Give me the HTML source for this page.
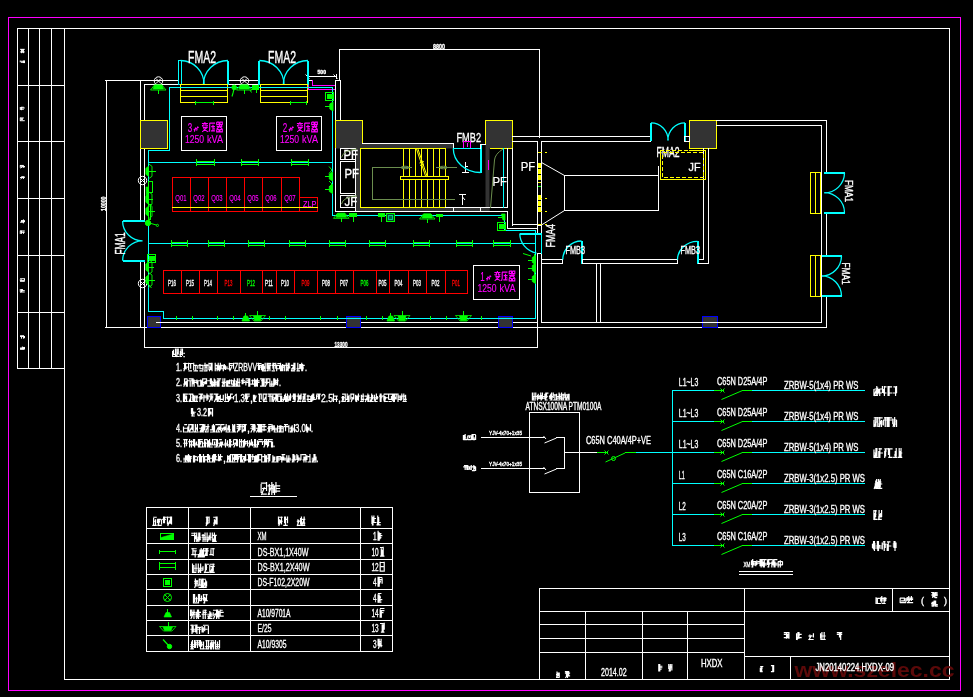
<!DOCTYPE html>
<html><head><meta charset="utf-8"><title>XM lighting plan</title>
<style>
html,body{margin:0;padding:0;background:#000;overflow:hidden}
body{width:973px;height:697px}
svg{display:block;font-family:"Liberation Sans",sans-serif}
text{white-space:pre}
</style></head><body>
<svg width="973" height="697" viewBox="0 0 973 697" fill="none" stroke-linecap="butt">
<rect x="0" y="0" width="973" height="697" fill="#000"/>
<defs><filter id="idf" x="0" y="0" width="973" height="697" filterUnits="userSpaceOnUse" color-interpolation-filters="sRGB"><feOffset dx="0" dy="0"/></filter></defs>
<g filter="url(#idf)">
<rect x="8.5" y="17.5" width="952" height="673" stroke="#ff00ff" fill="none" stroke-width="1" shape-rendering="crispEdges"/>
<line x1="17" y1="28.5" x2="950" y2="28.5" stroke="#ffffff" stroke-width="1" shape-rendering="crispEdges"/>
<line x1="949.5" y1="28" x2="949.5" y2="680" stroke="#ffffff" stroke-width="1" shape-rendering="crispEdges"/>
<line x1="64" y1="679.5" x2="950" y2="679.5" stroke="#ffffff" stroke-width="1" shape-rendering="crispEdges"/>
<line x1="64.5" y1="28" x2="64.5" y2="680" stroke="#ffffff" stroke-width="1" shape-rendering="crispEdges"/>
<line x1="17.5" y1="28" x2="17.5" y2="369" stroke="#ffffff" stroke-width="1" shape-rendering="crispEdges"/>
<line x1="17" y1="368.5" x2="65" y2="368.5" stroke="#ffffff" stroke-width="1" shape-rendering="crispEdges"/>
<line x1="28.5" y1="28" x2="28.5" y2="369" stroke="#ffffff" stroke-width="1" shape-rendering="crispEdges"/>
<line x1="39.5" y1="28" x2="39.5" y2="369" stroke="#ffffff" stroke-width="1" shape-rendering="crispEdges"/>
<line x1="51.5" y1="28" x2="51.5" y2="369" stroke="#ffffff" stroke-width="1" shape-rendering="crispEdges"/>
<line x1="17" y1="85.5" x2="65" y2="85.5" stroke="#ffffff" stroke-width="1" shape-rendering="crispEdges"/>
<line x1="17" y1="141.5" x2="65" y2="141.5" stroke="#ffffff" stroke-width="1" shape-rendering="crispEdges"/>
<line x1="17" y1="198.5" x2="65" y2="198.5" stroke="#ffffff" stroke-width="1" shape-rendering="crispEdges"/>
<line x1="17" y1="255.5" x2="65" y2="255.5" stroke="#ffffff" stroke-width="1" shape-rendering="crispEdges"/>
<line x1="17" y1="312.5" x2="65" y2="312.5" stroke="#ffffff" stroke-width="1" shape-rendering="crispEdges"/>
<path d="M21.46 49V53.2M22.4 49V52.57M23.43 49V53.2M20.06 49.34H24.74M20.06 51.94H24.74" stroke="#ffffff" fill="none" stroke-width="1"/>
<path d="M20.29 60.5V62.32M23.43 60.5V63.1M24.51 60.5V63.1M21 61.28H24.74M21 62.32H24.74" stroke="#ffffff" fill="none" stroke-width="1"/>
<path d="M20.29 107V109.72M21.46 107V110.2M21 107.26H23.8M20.06 107.96H24.74M20.06 109.24H23.8" stroke="#ffffff" fill="none" stroke-width="1"/>
<path d="M20.29 117.7V120.9M21.46 118.18V119.94M22.4 118.18V119.94M20.06 117.96H23.8M20.06 120.71H24.74" stroke="#ffffff" fill="none" stroke-width="1"/>
<path d="M20.29 165.2V167.75M23.43 165.65V167.75M24.51 166.1V167.3M20.06 165.44H23.8M21 166.7H24.74M20.53 168.2L22.87 166.4" stroke="#ffffff" fill="none" stroke-width="1"/>
<path d="M22.4 176.45V178.1M23.43 176.45V179M21 176.9H24.74M20.06 177.5H24.74M20.53 179L22.87 177.2" stroke="#ffffff" fill="none" stroke-width="1"/>
<path d="M21.46 220.6V222.2M23.43 219.4V223.4M24.51 220.6V222.2M21 220.6H24.74M21 221.4H24.74M20.06 222.2H23.8" stroke="#ffffff" fill="none" stroke-width="1"/>
<path d="M20.29 230.7V233.9M21.46 230.7V233.9M23.43 231.66V233.9M20.06 230.96H24.74M21 232.3H24.74" stroke="#ffffff" fill="none" stroke-width="1"/>
<path d="M20.29 279.4V280.6M21.46 279.4V280.6M24.51 278.5V280.6M20.06 278.74H24.74M20.06 280.6H24.74M20.06 281.32H24.74" stroke="#ffffff" fill="none" stroke-width="1"/>
<path d="M20.29 289V291.72M21.46 289V292.2M22.4 289V291.24M21 290.6H24.74M20.06 292.01H24.74M20.53 292.2L22.87 290.28" stroke="#ffffff" fill="none" stroke-width="1"/>
<path d="M21.46 335.98V338.7M23.43 335.5V338.7M24.51 335.98V338.22M20.06 335.76H23.8M20.06 336.46H24.74" stroke="#ffffff" fill="none" stroke-width="1"/>
<path d="M22.4 346.5V349.05M23.43 346.95V349.5M24.51 346.95V349.5M20.06 348H23.8M20.06 348.6H24.74M20.06 349.32H23.8" stroke="#ffffff" fill="none" stroke-width="1"/>
<line x1="539" y1="588.5" x2="950" y2="588.5" stroke="#ffffff" stroke-width="1" shape-rendering="crispEdges"/>
<line x1="539.5" y1="588" x2="539.5" y2="680" stroke="#ffffff" stroke-width="1" shape-rendering="crispEdges"/>
<line x1="539" y1="611.5" x2="950" y2="611.5" stroke="#ffffff" stroke-width="1" shape-rendering="crispEdges"/>
<line x1="539" y1="624.5" x2="745" y2="624.5" stroke="#ffffff" stroke-width="1" shape-rendering="crispEdges"/>
<line x1="539" y1="638.5" x2="745" y2="638.5" stroke="#ffffff" stroke-width="1" shape-rendering="crispEdges"/>
<line x1="539" y1="652.5" x2="745" y2="652.5" stroke="#ffffff" stroke-width="1" shape-rendering="crispEdges"/>
<line x1="744" y1="656.5" x2="950" y2="656.5" stroke="#ffffff" stroke-width="1" shape-rendering="crispEdges"/>
<line x1="585.5" y1="611" x2="585.5" y2="680" stroke="#ffffff" stroke-width="1" shape-rendering="crispEdges"/>
<line x1="642.5" y1="611" x2="642.5" y2="680" stroke="#ffffff" stroke-width="1" shape-rendering="crispEdges"/>
<line x1="687.5" y1="611" x2="687.5" y2="680" stroke="#ffffff" stroke-width="1" shape-rendering="crispEdges"/>
<line x1="744.5" y1="588" x2="744.5" y2="680" stroke="#ffffff" stroke-width="1" shape-rendering="crispEdges"/>
<line x1="892.5" y1="588" x2="892.5" y2="612" stroke="#ffffff" stroke-width="1" shape-rendering="crispEdges"/>
<line x1="790.5" y1="656" x2="790.5" y2="680" stroke="#ffffff" stroke-width="1" shape-rendering="crispEdges"/>
<text x="794.5" y="676.5" font-size="21" fill="#5c0909" textLength="160" lengthAdjust="spacingAndGlyphs" font-weight="bold">www.szelec.cc</text>
<path d="M557.02 671.5V677.8M558.45 672.45V675.91M559.24 672.45V677.8M556.67 673.39H559.41M555.99 674.65H559.41M555.99 677.42H559.41M556.33 677.8L558.04 674.02" stroke="#ffffff" fill="none" stroke-width="1.2"/>
<path d="M566.46 671V675.9M567.5 672.05V678M568.65 671V675.9M564.89 671.56H569.07M564.89 673.1H570.11M565.93 675.9H570.11M565.41 678L568.02 673.8" stroke="#ffffff" fill="none" stroke-width="1.2"/>
<text x="601" y="676.3" font-size="11.5" fill="#ffffff" textLength="25.7" lengthAdjust="spacingAndGlyphs" stroke="#ffffff" stroke-width="0.35">2014.02</text>
<path d="M658.8 664V671.5M659.74 664V671.5M659.37 666.25H662.39M659.37 667.75H662.39M658.61 669.25H661.63" stroke="#ffffff" fill="none" stroke-width="1.2"/>
<path d="M668.76 664V669.25M670.3 664V671.5M671.84 664V670.38M669.27 666.25H672.01M668.59 667.75H671.33M668.93 671.5L670.64 667" stroke="#ffffff" fill="none" stroke-width="1.2"/>
<text x="701" y="667.3" font-size="10.3" fill="#ffffff" textLength="21.5" lengthAdjust="spacingAndGlyphs" stroke="#ffffff" stroke-width="0.35">HXDX</text>
<path d="M760.33 667.8V672M761.12 666V672M761.75 667.8V672M760.17 666.48H763.32M760.8 667.8H762.69M760.17 671.64H762.69M760.49 672L762.06 668.4" stroke="#ffffff" fill="none" stroke-width="1.2"/>
<path d="M772.79 665V672M773.62 665V672M770.92 665.56H773.8M770.92 671.58H773.8" stroke="#ffffff" fill="none" stroke-width="1.2"/>
<text x="815.5" y="671" font-size="10" fill="#ffffff" textLength="78.5" lengthAdjust="spacingAndGlyphs" stroke="#ffffff" stroke-width="0.35">JN20140224.HXDX-09</text>
<path d="M786.5 632V638.8M787.69 634.4V637.6M788.93 632V638.8M783.8 632.64H789.2M783.8 634.4H789.2M783.8 637.6H789.2" stroke="#ffffff" fill="none" stroke-width="1.2"/>
<path d="M796.57 633.2V640M797.92 632V638.8M799 632V638.8M797.38 634.4H801.7M796.3 637.6H801.7M796.84 640L799.54 635.2" stroke="#ffffff" fill="none" stroke-width="1.2"/>
<path d="M809.92 634.4V637.6M813.43 633.2V637.6M808.3 636H812.62M808.3 639.52H813.7M808.84 640L811.54 635.2" stroke="#ffffff" fill="none" stroke-width="1.2"/>
<path d="M820.57 633.2V638.8M821.92 632V640M824.19 632V640M820.3 636H825.7M820.3 639.52H825.7" stroke="#ffffff" fill="none" stroke-width="1.2"/>
<path d="M839.5 632V637.6M840.69 633.2V640M836.8 632.64H842.2M836.8 634.4H842.2" stroke="#ffffff" fill="none" stroke-width="1.2"/>
<path d="M876.05 597.2V604M877.34 598.4V604M880.7 597.2V601.6M875.79 598.4H879.93M876.82 603.52H880.96M881.8 596V602.8M884.12 597.2V604M885.26 597.2V601.6M881.54 598.4H886.71M881.54 600H886.71M881.54 603.52H885.68" stroke="#ffffff" fill="none" stroke-width="1.2"/>
<path d="M900.17 598.1V603M904.39 598.1V600.9M905.84 598.1V601.95M899.85 598.1H904.89M901.11 600.9H904.89M899.85 602.58H906.15M907.17 597.05V600.9M908.74 596V603M911.39 596V600.9M906.85 598.1H913.15M906.85 599.5H913.15M906.85 602.58H913.15M907.48 603L910.63 598.8" stroke="#ffffff" fill="none" stroke-width="1.2"/>
<text x="921" y="603.5" font-size="9" fill="#ffffff" stroke="#ffffff" stroke-width="0.35">(</text>
<path d="M932.75 592.9V598M933.44 592V597.1M934.17 592V597.1M931.17 592.48H934.32M931.17 595H934.32M934.83 592.9V598M935.62 592V596.2M936.94 592V596.2M935.3 595H937.82M934.67 597.64H937.19" stroke="#ffffff" fill="none" stroke-width="1.2"/>
<path d="M932.12 602.3V606.5M933.44 601.4V606.5M934.17 600.5V604.7M931.8 602.3H933.69M931.17 603.5H933.69M931.8 606.14H933.69M934.83 600.5V606.5M935.62 600.5V605.6M935.3 604.7H937.82M935.3 606.14H937.82" stroke="#ffffff" fill="none" stroke-width="1.2"/>
<text x="944" y="603.5" font-size="9" fill="#ffffff" stroke="#ffffff" stroke-width="0.35">)</text>
<line x1="146" y1="507.5" x2="393" y2="507.5" stroke="#ffffff" stroke-width="1" shape-rendering="crispEdges"/>
<line x1="146" y1="528.5" x2="393" y2="528.5" stroke="#ffffff" stroke-width="1" shape-rendering="crispEdges"/>
<line x1="146" y1="543.5" x2="393" y2="543.5" stroke="#ffffff" stroke-width="1" shape-rendering="crispEdges"/>
<line x1="146" y1="559.5" x2="393" y2="559.5" stroke="#ffffff" stroke-width="1" shape-rendering="crispEdges"/>
<line x1="146" y1="574.5" x2="393" y2="574.5" stroke="#ffffff" stroke-width="1" shape-rendering="crispEdges"/>
<line x1="146" y1="589.5" x2="393" y2="589.5" stroke="#ffffff" stroke-width="1" shape-rendering="crispEdges"/>
<line x1="146" y1="605.5" x2="393" y2="605.5" stroke="#ffffff" stroke-width="1" shape-rendering="crispEdges"/>
<line x1="146" y1="620.5" x2="393" y2="620.5" stroke="#ffffff" stroke-width="1" shape-rendering="crispEdges"/>
<line x1="146" y1="635.5" x2="393" y2="635.5" stroke="#ffffff" stroke-width="1" shape-rendering="crispEdges"/>
<line x1="146" y1="651.5" x2="393" y2="651.5" stroke="#ffffff" stroke-width="1" shape-rendering="crispEdges"/>
<line x1="146.5" y1="507" x2="146.5" y2="652" stroke="#ffffff" stroke-width="1" shape-rendering="crispEdges"/>
<line x1="188.5" y1="507" x2="188.5" y2="652" stroke="#ffffff" stroke-width="1" shape-rendering="crispEdges"/>
<line x1="250.5" y1="507" x2="250.5" y2="652" stroke="#ffffff" stroke-width="1" shape-rendering="crispEdges"/>
<line x1="360.5" y1="507" x2="360.5" y2="652" stroke="#ffffff" stroke-width="1" shape-rendering="crispEdges"/>
<line x1="392.5" y1="507" x2="392.5" y2="652" stroke="#ffffff" stroke-width="1" shape-rendering="crispEdges"/>
<path d="M153.6 517.92V526M155.49 519.35V526M153.15 517.26H156.75M153.15 521.25H155.85M152.25 525.43H156.75M157.47 519.35V523.15M158.6 519.35V526M161.53 519.35V524.58M157.25 519.35H160.85M157.25 525.43H161.75M157.7 526L159.95 520.3M163.6 516.5V523.15M164.5 516.5V523.15M163.15 517.26H166.75M162.25 519.35H165.85M167.47 516.5V524.58M170.49 516.5V523.15M171.53 516.5V524.58M167.25 517.26H171.75M167.25 523.15H171.75M167.7 526L169.95 520.3" stroke="#ffffff" fill="none" stroke-width="1.2"/>
<path d="M206.78 516.5V524.58M207.5 516.5V524.58M209.12 516.5V523.15M205.7 517.26H209.3M205.7 523.15H208.58M206.06 526L207.86 520.3" stroke="#ffffff" fill="none" stroke-width="1.2"/>
<path d="M214.44 519.35V524.58M216.14 516.5V524.58M217.07 516.5V524.58M213.22 517.26H216.47M213.22 523.15H216.47M213.63 526L215.66 520.3" stroke="#ffffff" fill="none" stroke-width="1.2"/>
<path d="M278.48 516.5V524.58M279.6 519.35V524.58M281.49 516.5V524.58M279.15 517.26H282.75M278.25 521.25H282.75M278.7 526L280.95 520.3M284.6 516.5V523.15M285.5 516.5V526M287.52 516.5V523.15M284.15 519.35H287.75M283.25 525.43H287.75" stroke="#ffffff" fill="none" stroke-width="1.2"/>
<path d="M297.94 519.35V523.15M300.57 517.92V524.58M296.73 521.25H299.97M296.73 525.43H300.78M297.13 526L299.16 520.3M301.43 516.5V526M304.14 516.5V526M301.23 519.35H305.28M301.23 523.15H305.28M302.04 525.43H305.28M301.63 526L303.66 520.3" stroke="#ffffff" fill="none" stroke-width="1.2"/>
<path d="M371.95 515.5V524M373.02 517V525.5M373.88 515.5V522.5M371.74 518.5H376.01M371.74 522.5H376.01M372.17 525.5L374.3 519.5M377.77 515.5V525.5M378.62 517V525.5M376.49 522.5H380.76M376.49 524.9H380.76M376.92 525.5L379.05 519.5" stroke="#ffffff" fill="none" stroke-width="1.2"/>
<path d="M194.63 532.5V542M195.71 535.35V539.15M191.26 533.26H195.94M191.26 535.35H195M196.69 532.5V542M198.8 532.5V542M199.83 532.5V540.58M197.4 537.25H201.14M196.46 539.15H201.14M196.93 542L199.27 536.3M203.06 533.92V542M205.03 532.5V542M201.66 535.35H205.4M201.66 537.25H206.34M202.6 539.15H206.34M207.09 532.5V542M209.2 535.35V539.15M210.23 532.5V540.58M206.86 537.25H211.54M206.86 539.15H210.6M207.33 542L209.67 536.3M212.29 532.5V540.58M214.4 532.5V542M215.43 535.35V542M212.06 535.35H216.74M212.06 541.43H216.74M212.53 542L214.87 536.3" stroke="#ffffff" fill="none" stroke-width="1.2"/>
<path d="M192.92 548V554.65M195.19 550.85V557.5M191.3 548.76H196.7M192.38 550.85H196.7M191.3 554.65H196.7M200 549.42V557.5M201.19 548V557.5M202.43 549.42V557.5M197.3 554.65H202.7M198.38 556.93H201.62M197.84 557.5L200.54 551.8M203.57 548V557.5M206 548V556.08M207.19 548V556.08M203.3 548.76H208.7M203.3 550.85H208.7M203.84 557.5L206.54 551.8M210.92 549.42V554.65M213.19 548V556.08M210.38 548.76H214.7M209.3 554.65H213.62" stroke="#ffffff" fill="none" stroke-width="1.2"/>
<path d="M192.55 563.5V573M193.84 564.92V573M196.01 563.5V571.58M193.32 568.25H197.46M192.29 572.43H196.43M198.3 563.5V573M200.62 563.5V573M202.95 566.35V570.15M198.04 568.25H203.21M198.04 570.15H203.21M198.56 573L201.14 567.3M205.34 563.5V571.58M206.38 564.92V570.15M204.82 564.26H208.96M203.79 572.43H208.96M204.31 573L206.89 567.3M209.8 564.92V573M212.12 566.35V573M213.26 563.5V571.58M209.54 564.26H214.71M210.57 566.35H214.71M209.54 572.43H214.71M210.06 573L212.64 567.3" stroke="#ffffff" fill="none" stroke-width="1.2"/>
<path d="M195.39 578.5V586.58M196.17 579.92V586.58M197.92 579.92V586.58M194.22 581.35H198.12M194.22 583.25H198.12M194.61 588L196.56 582.3M199.72 578.5V585.15M201.36 579.92V588M202.26 578.5V588M198.55 579.26H202.45M198.55 585.15H202.45M198.55 587.43H202.45M203.08 578.5V588M205.69 579.92V588M206.59 581.35V586.58M203.66 579.26H206M203.66 583.25H206.78M202.88 587.43H206.78M203.27 588L205.22 582.3" stroke="#ffffff" fill="none" stroke-width="1.2"/>
<path d="M193.47 594V603.5M194.6 594V602.08M196.49 596.85V602.08M193.25 598.75H197.75M193.25 602.93H197.75M198.47 594V603.5M199.6 594V600.65M201.49 595.42V600.65M198.25 598.75H202.75M199.15 600.65H201.85M203.47 594V600.65M204.6 596.85V603.5M206.49 594V600.65M203.25 594.76H207.75M204.15 600.65H207.75M203.7 603.5L205.95 597.8" stroke="#ffffff" fill="none" stroke-width="1.2"/>
<path d="M190.54 609.5V616.15M191.81 609.5V617.58M193.96 609.5V619M191.3 612.35H195.38M190.28 614.25H195.38M190.79 619L193.34 613.3M196.2 612.35V617.58M197.48 609.5V616.15M198.5 609.5V619M195.95 612.35H201.05M195.95 614.25H200.03M195.95 616.15H201.05M196.46 619L199.01 613.3M203.15 610.92V619M205.29 609.5V619M202.64 610.26H206.72M202.64 612.35H206.72M201.62 614.25H206.72M209.83 610.92V619M210.96 612.35V616.15M207.28 614.25H212.38M207.28 616.15H212.38M208.3 618.43H212.38M207.79 619L210.34 613.3M213.2 612.35V616.15M216.62 609.5V619M217.79 609.5V617.58M212.95 610.26H217.03M213.97 614.25H217.03M213.46 619L216.01 613.3M218.87 610.92V619M220.15 609.5V616.15M219.64 610.26H222.7M219.64 612.35H223.72M218.62 616.15H223.72" stroke="#ffffff" fill="none" stroke-width="1.2"/>
<path d="M192.03 624.5V634M193.17 625.92V632.58M195.73 624.5V632.58M190.32 625.26H194.88M190.32 629.25H196.02M191.46 631.15H196.02M196.94 624.5V634M199.5 627.35V634M202.06 625.92V632.58M196.65 627.35H201.21M196.65 629.25H201.21M203.27 627.35V632.58M204.69 625.92V631.15M208.4 625.92V634M202.98 625.26H208.68M202.98 629.25H207.54" stroke="#ffffff" fill="none" stroke-width="1.2"/>
<path d="M191.6 641.42V649.5M192.5 640V649.5M194.53 640V648.08M190.25 644.75H194.75M190.25 646.65H194.75M190.25 648.93H193.85M195.47 641.42V648.08M197.5 640V648.08M199.53 640V646.65M195.25 640.76H198.85M195.25 642.85H199.75M195.25 644.75H199.75M200.47 640V649.5M201.6 641.42V646.65M203.49 641.42V649.5M201.15 644.75H203.85M201.15 648.93H204.75M206.6 640V649.5M208.49 640V649.5M205.25 640.76H209.75M205.25 646.65H209.75M205.25 648.93H208.85M210.47 642.85V649.5M211.6 641.42V649.5M213.49 641.42V649.5M210.25 640.76H213.85M210.25 642.85H214.75M211.15 646.65H213.85M210.7 649.5L212.95 643.8M215.47 640V649.5M217.5 641.42V648.08M219.53 640V648.08M216.15 644.75H219.75M215.25 646.65H218.85M215.25 648.93H219.75" stroke="#ffffff" fill="none" stroke-width="1.2"/>
<text x="257.5" y="539.7" font-size="11" fill="#ffffff" textLength="9" lengthAdjust="spacingAndGlyphs" stroke="#ffffff" stroke-width="0.35">XM</text>
<text x="257.5" y="555.7" font-size="11" fill="#ffffff" textLength="51" lengthAdjust="spacingAndGlyphs" stroke="#ffffff" stroke-width="0.35">DS-BX1,1X40W</text>
<text x="257.5" y="570.7" font-size="11" fill="#ffffff" textLength="52" lengthAdjust="spacingAndGlyphs" stroke="#ffffff" stroke-width="0.35">DS-BX1,2X40W</text>
<text x="257.5" y="585.7" font-size="11" fill="#ffffff" textLength="52" lengthAdjust="spacingAndGlyphs" stroke="#ffffff" stroke-width="0.35">DS-F102,2X20W</text>
<text x="257.5" y="616.7" font-size="11" fill="#ffffff" textLength="33" lengthAdjust="spacingAndGlyphs" stroke="#ffffff" stroke-width="0.35">A10/9701A</text>
<text x="257.5" y="631.7" font-size="11" fill="#ffffff" textLength="14" lengthAdjust="spacingAndGlyphs" stroke="#ffffff" stroke-width="0.35">E/25</text>
<text x="257.5" y="647.7" font-size="11" fill="#ffffff" textLength="29" lengthAdjust="spacingAndGlyphs" stroke="#ffffff" stroke-width="0.35">A10/9305</text>
<text x="373" y="539.7" font-size="11" fill="#ffffff" textLength="3.6" lengthAdjust="spacingAndGlyphs" stroke="#ffffff" stroke-width="0.35">1</text>
<path d="M378.08 530.7V540.7M379.2 532.2V540.7M380.1 533.7V539.2M378.75 533.7H381.45M378.75 535.7H382.35M377.85 537.7H381.45" stroke="#ffffff" fill="none" stroke-width="1.2"/>
<text x="371.5" y="555.7" font-size="11" fill="#ffffff" textLength="7.2" lengthAdjust="spacingAndGlyphs" stroke="#ffffff" stroke-width="0.35">10</text>
<path d="M381.3 548.2V556.7M382.2 549.7V556.7M383.19 546.7V556.7M379.95 547.5H383.55M379.95 556.1H384.45" stroke="#ffffff" fill="none" stroke-width="1.2"/>
<text x="371.5" y="570.7" font-size="11" fill="#ffffff" textLength="7.2" lengthAdjust="spacingAndGlyphs" stroke="#ffffff" stroke-width="0.35">12</text>
<path d="M380.18 561.7V571.7M384.22 561.7V571.7M379.95 562.5H384.45M380.85 566.7H383.55M379.95 571.1H383.55" stroke="#ffffff" fill="none" stroke-width="1.2"/>
<text x="373" y="585.7" font-size="11" fill="#ffffff" textLength="3.6" lengthAdjust="spacingAndGlyphs" stroke="#ffffff" stroke-width="0.35">4</text>
<path d="M378.08 576.7V586.7M379.2 576.7V586.7M382.12 578.2V583.7M378.75 577.5H382.35M377.85 579.7H382.35M378.3 586.7L380.55 580.7" stroke="#ffffff" fill="none" stroke-width="1.2"/>
<text x="373" y="601.7" font-size="11" fill="#ffffff" textLength="3.6" lengthAdjust="spacingAndGlyphs" stroke="#ffffff" stroke-width="0.35">4</text>
<path d="M378.08 594.2V602.7M379.2 594.2V601.2M380.1 595.7V601.2M377.85 593.5H381.45M377.85 599.7H382.35M377.85 602.1H381.45M378.3 602.7L380.55 596.7" stroke="#ffffff" fill="none" stroke-width="1.2"/>
<text x="371.5" y="616.7" font-size="11" fill="#ffffff" textLength="7.2" lengthAdjust="spacingAndGlyphs" stroke="#ffffff" stroke-width="0.35">14</text>
<path d="M380.18 609.2V617.7M381.3 610.7V617.7M379.95 608.5H384.45M379.95 610.7H384.45M379.95 612.7H383.55" stroke="#ffffff" fill="none" stroke-width="1.2"/>
<text x="371.5" y="631.7" font-size="11" fill="#ffffff" textLength="7.2" lengthAdjust="spacingAndGlyphs" stroke="#ffffff" stroke-width="0.35">13</text>
<path d="M382.2 624.2V632.7M383.19 624.2V632.7M384.22 622.7V629.7M379.95 623.5H383.55M380.85 632.1H384.45" stroke="#ffffff" fill="none" stroke-width="1.2"/>
<text x="373" y="647.7" font-size="11" fill="#ffffff" textLength="3.6" lengthAdjust="spacingAndGlyphs" stroke="#ffffff" stroke-width="0.35">3</text>
<path d="M378.08 638.7V645.7M379.2 638.7V647.2M381.09 638.7V647.2M377.85 641.7H381.45M377.85 645.7H382.35M378.3 648.7L380.55 642.7" stroke="#ffffff" fill="none" stroke-width="1.2"/>
<path d="M261.13 483.95V493.05M266.53 482V491.1M260.83 483.04H266.83M262.03 488.5H266.83M262.03 494.22H266.83M261.43 495L264.43 487.2M269.3 483.95V495M271.82 482V495M273.2 483.95V493.05M267.5 485.9H273.5M268.7 488.5H273.5M268.1 495L271.1 487.2M274.47 485.9V495M275.97 482V493.05M274.17 485.9H280.17M275.37 488.5H280.17M274.17 491.1H280.17" stroke="#ffffff" fill="none" stroke-width="1.2"/>
<line x1="249.5" y1="496.5" x2="297" y2="496.5" stroke="#ffffff" stroke-width="1" shape-rendering="crispEdges"/>
<rect x="160.5" y="533.5" width="13" height="6" stroke="#00ff00" fill="none" stroke-width="1" shape-rendering="crispEdges"/>
<polygon points="161,539 161,537.5 173,534 173,539" stroke="#00ff00" fill="#00ff00" stroke-width="0.5"/>
<line x1="159.5" y1="551.5" x2="176" y2="551.5" stroke="#00ff00" stroke-width="1" shape-rendering="crispEdges"/>
<line x1="159.5" y1="549.5" x2="159.5" y2="554" stroke="#00ff00" stroke-width="1" shape-rendering="crispEdges"/>
<line x1="175.5" y1="549.5" x2="175.5" y2="554" stroke="#00ff00" stroke-width="1" shape-rendering="crispEdges"/>
<line x1="159.5" y1="563.5" x2="176" y2="563.5" stroke="#00ff00" stroke-width="1" shape-rendering="crispEdges"/>
<line x1="159.5" y1="567.5" x2="176" y2="567.5" stroke="#00ff00" stroke-width="1" shape-rendering="crispEdges"/>
<line x1="159.5" y1="561.5" x2="159.5" y2="570" stroke="#00ff00" stroke-width="1" shape-rendering="crispEdges"/>
<line x1="175.5" y1="561.5" x2="175.5" y2="570" stroke="#00ff00" stroke-width="1" shape-rendering="crispEdges"/>
<rect x="163.5" y="578.5" width="8" height="8" stroke="#00ff00" fill="none" stroke-width="1" shape-rendering="crispEdges"/>
<rect x="165.5" y="580.5" width="4" height="4" stroke="#00ff00" fill="#00ff00" stroke-width="1" shape-rendering="crispEdges"/>
<circle cx="167.5" cy="597.5" r="4" stroke="#00ff00" fill="none" stroke-width="1"/>
<line x1="164.8" y1="594.8" x2="170.2" y2="600.2" stroke="#00ff00" stroke-width="1"/>
<line x1="164.8" y1="600.2" x2="170.2" y2="594.8" stroke="#00ff00" stroke-width="1"/>
<polygon points="164,617 171.5,617 169.5,612.5 166,612.5" stroke="#00ff00" fill="#00ff00" stroke-width="0.6"/>
<line x1="167.5" y1="609" x2="167.5" y2="613" stroke="#00ff00" stroke-width="1" shape-rendering="crispEdges"/>
<polygon points="159.5,626.5 176,626.5 172,631 163.5,631" stroke="#00ff00" fill="none" stroke-width="0.8"/>
<polygon points="163,627 172.5,627 171,630.5 164.5,630.5" stroke="#00ff00" fill="#00ff00" stroke-width="0.6"/>
<line x1="168.5" y1="622" x2="168.5" y2="627" stroke="#00ff00" stroke-width="1" shape-rendering="crispEdges"/>
<circle cx="169.5" cy="646.5" r="2.2" stroke="#00ff00" fill="#00ff00" stroke-width="1"/>
<line x1="163" y1="639.5" x2="169" y2="646" stroke="#00ff00" stroke-width="1.2"/>
<line x1="106.5" y1="80" x2="106.5" y2="328" stroke="#ffffff" stroke-width="1" shape-rendering="crispEdges"/>
<line x1="104.5" y1="80.5" x2="179" y2="80.5" stroke="#ffffff" stroke-width="1" shape-rendering="crispEdges"/>
<line x1="104.5" y1="327.5" x2="827" y2="327.5" stroke="#ffffff" stroke-width="1" shape-rendering="crispEdges"/>
<text x="106" y="211" font-size="7.5" fill="#ffffff" textLength="14.5" lengthAdjust="spacingAndGlyphs" transform="rotate(-90 106 211)" font-weight="bold" stroke="#ffffff" stroke-width="0.35">10000</text>
<line x1="144" y1="347.5" x2="538" y2="347.5" stroke="#ffffff" stroke-width="1" shape-rendering="crispEdges"/>
<text x="334.5" y="347" font-size="8" fill="#ffffff" textLength="13" lengthAdjust="spacingAndGlyphs" font-weight="bold" stroke="#ffffff" stroke-width="0.35">13300</text>
<line x1="140.5" y1="80" x2="140.5" y2="121" stroke="#ffffff" stroke-width="1" shape-rendering="crispEdges"/>
<line x1="140.5" y1="148" x2="140.5" y2="221" stroke="#ffffff" stroke-width="1" shape-rendering="crispEdges"/>
<line x1="140.5" y1="261" x2="140.5" y2="328" stroke="#ffffff" stroke-width="1" shape-rendering="crispEdges"/>
<line x1="144.5" y1="84" x2="144.5" y2="121" stroke="#ffffff" stroke-width="1" shape-rendering="crispEdges"/>
<line x1="144.5" y1="148" x2="144.5" y2="221" stroke="#ffffff" stroke-width="1" shape-rendering="crispEdges"/>
<line x1="144.5" y1="261" x2="144.5" y2="348" stroke="#ffffff" stroke-width="1" shape-rendering="crispEdges"/>
<line x1="140" y1="220.5" x2="145" y2="220.5" stroke="#ffffff" stroke-width="1" shape-rendering="crispEdges"/>
<line x1="140" y1="261.5" x2="145" y2="261.5" stroke="#ffffff" stroke-width="1" shape-rendering="crispEdges"/>
<line x1="144" y1="84.5" x2="181" y2="84.5" stroke="#ffffff" stroke-width="1" shape-rendering="crispEdges"/>
<line x1="228" y1="80.5" x2="259" y2="80.5" stroke="#ffffff" stroke-width="1" shape-rendering="crispEdges"/>
<line x1="228" y1="84.5" x2="259" y2="84.5" stroke="#ffffff" stroke-width="1" shape-rendering="crispEdges"/>
<line x1="156" y1="322.5" x2="538" y2="322.5" stroke="#ffffff" stroke-width="1" shape-rendering="crispEdges"/>
<line x1="541" y1="322.5" x2="822" y2="322.5" stroke="#ffffff" stroke-width="1" shape-rendering="crispEdges"/>
<line x1="307.5" y1="76" x2="307.5" y2="85" stroke="#ffffff" stroke-width="1" shape-rendering="crispEdges"/>
<line x1="307" y1="76.5" x2="337" y2="76.5" stroke="#ffffff" stroke-width="1" shape-rendering="crispEdges"/>
<line x1="333.5" y1="74.5" x2="337.5" y2="78.5" stroke="#ffffff" stroke-width="1"/>
<line x1="305.5" y1="74.5" x2="309.5" y2="78.5" stroke="#ffffff" stroke-width="1"/>
<line x1="336.5" y1="74" x2="336.5" y2="79" stroke="#ffffff" stroke-width="1" shape-rendering="crispEdges"/>
<text x="317.5" y="73.5" font-size="5" fill="#ffffff" textLength="8.5" lengthAdjust="spacingAndGlyphs" font-weight="bold" stroke="#ffffff" stroke-width="0.35">500</text>
<line x1="307" y1="80.5" x2="313" y2="80.5" stroke="#ffffff" stroke-width="1" shape-rendering="crispEdges"/>
<line x1="312.5" y1="80" x2="312.5" y2="86" stroke="#ff00ff" stroke-width="1" shape-rendering="crispEdges"/>
<line x1="312" y1="85.5" x2="336" y2="85.5" stroke="#ff00ff" stroke-width="1" shape-rendering="crispEdges"/>
<line x1="308.5" y1="85" x2="308.5" y2="90" stroke="#ff00ff" stroke-width="1" shape-rendering="crispEdges"/>
<line x1="308" y1="89.5" x2="336" y2="89.5" stroke="#ff00ff" stroke-width="1" shape-rendering="crispEdges"/>
<line x1="335.5" y1="80" x2="335.5" y2="121" stroke="#ffffff" stroke-width="1" shape-rendering="crispEdges"/>
<line x1="340.5" y1="80" x2="340.5" y2="121" stroke="#ffffff" stroke-width="1" shape-rendering="crispEdges"/>
<line x1="339.5" y1="49" x2="339.5" y2="81" stroke="#ffffff" stroke-width="1" shape-rendering="crispEdges"/>
<line x1="335" y1="80.5" x2="341" y2="80.5" stroke="#ffffff" stroke-width="1" shape-rendering="crispEdges"/>
<line x1="339" y1="49.5" x2="540" y2="49.5" stroke="#ffffff" stroke-width="1" shape-rendering="crispEdges"/>
<line x1="539.5" y1="49" x2="539.5" y2="138" stroke="#ffffff" stroke-width="1" shape-rendering="crispEdges"/>
<text x="433" y="48.8" font-size="7.5" fill="#ffffff" textLength="12" lengthAdjust="spacingAndGlyphs" font-weight="bold" stroke="#ffffff" stroke-width="0.35">8800</text>
<rect x="140.5" y="120.5" width="27" height="28" stroke="#ffff00" fill="#333333" stroke-width="1" shape-rendering="crispEdges"/>
<path d="M335.5 120.5H362.5V143.5H453.5V148.5H360.5V207.5H453.5V211.5H355.5V148.5H335.5Z" fill="#333333" stroke="none"/>
<polyline points="335.5,148.5 335.5,120.5 362.5,120.5 362.5,143.5" stroke="#ffff00" fill="none" stroke-width="1" shape-rendering="crispEdges"/>
<line x1="362" y1="143.5" x2="454" y2="143.5" stroke="#ffffff" stroke-width="1" shape-rendering="crispEdges"/>
<line x1="453.5" y1="143" x2="453.5" y2="149" stroke="#ffffff" stroke-width="1" shape-rendering="crispEdges"/>
<path d="M485.5 120.5H512.5V148.5H489.5V211.5H485.5Z" fill="#333333" stroke="none"/>
<path d="M445 207.5H489.5V211.5H445Z" fill="#333333" stroke="none"/>
<polyline points="485.5,144 485.5,120.5 512.5,120.5 512.5,148.5 489.5,148.5" stroke="#ffff00" fill="none" stroke-width="1" shape-rendering="crispEdges"/>
<rect x="689.5" y="120.5" width="27" height="28" stroke="#ffff00" fill="#333333" stroke-width="1" shape-rendering="crispEdges"/>
<rect x="147.5" y="316.5" width="13" height="11" stroke="#0000ff" fill="#333333" stroke-width="1" shape-rendering="crispEdges"/>
<rect x="346.5" y="316.5" width="14" height="11" stroke="#0000ff" fill="#333333" stroke-width="1" shape-rendering="crispEdges"/>
<rect x="498" y="316.5" width="14.5" height="11" stroke="#0000ff" fill="#333333" stroke-width="1" shape-rendering="crispEdges"/>
<rect x="702.5" y="316.5" width="14.5" height="11" stroke="#0000ff" fill="#333333" stroke-width="1" shape-rendering="crispEdges"/>
<line x1="156" y1="322.5" x2="161.5" y2="322.5" stroke="#ffffff" stroke-width="1" shape-rendering="crispEdges"/>
<line x1="702" y1="322.5" x2="718" y2="322.5" stroke="#ffffff" stroke-width="1" shape-rendering="crispEdges"/>
<line x1="335.5" y1="148" x2="335.5" y2="212" stroke="#ffffff" stroke-width="1" shape-rendering="crispEdges"/>
<line x1="335" y1="211.5" x2="508" y2="211.5" stroke="#ffffff" stroke-width="1" shape-rendering="crispEdges"/>
<line x1="355.5" y1="148" x2="355.5" y2="212" stroke="#ffffff" stroke-width="1" shape-rendering="crispEdges"/>
<rect x="340.5" y="148.5" width="15" height="11" stroke="#ffffff" fill="none" stroke-width="1" shape-rendering="crispEdges"/>
<rect x="340.5" y="161.5" width="15" height="32" stroke="#ffffff" fill="none" stroke-width="1" shape-rendering="crispEdges"/>
<rect x="340.5" y="195.5" width="15" height="12" stroke="#ffffff" fill="none" stroke-width="1" shape-rendering="crispEdges"/>
<text x="343.5" y="158.5" font-size="12.4" fill="#ffffff" textLength="14.5" lengthAdjust="spacingAndGlyphs" stroke="#ffffff" stroke-width="0.35">PF</text>
<text x="344.5" y="177.5" font-size="12.4" fill="#ffffff" textLength="14.5" lengthAdjust="spacingAndGlyphs" stroke="#ffffff" stroke-width="0.35">PF</text>
<text x="344.5" y="206.3" font-size="12.4" fill="#ffffff" textLength="12.5" lengthAdjust="spacingAndGlyphs" stroke="#ffffff" stroke-width="0.35">JF</text>
<path d="M341.5 157.5Q343 150.5 357 149" stroke="#6b8e4e" fill="none" stroke-width="1"/>
<path d="M341.5 204Q343 197 357 195.8" stroke="#6b8e4e" fill="none" stroke-width="1"/>
<rect x="360.5" y="148.5" width="85" height="59" stroke="#ffff00" fill="none" stroke-width="1" shape-rendering="crispEdges"/>
<line x1="403.5" y1="148" x2="403.5" y2="208" stroke="#ffff00" stroke-width="1" shape-rendering="crispEdges"/>
<line x1="409.5" y1="148" x2="409.5" y2="208" stroke="#ffff00" stroke-width="1" shape-rendering="crispEdges"/>
<line x1="415.5" y1="148" x2="415.5" y2="208" stroke="#ffff00" stroke-width="1" shape-rendering="crispEdges"/>
<line x1="421.5" y1="148" x2="421.5" y2="208" stroke="#ffff00" stroke-width="1" shape-rendering="crispEdges"/>
<line x1="427.5" y1="148" x2="427.5" y2="208" stroke="#ffff00" stroke-width="1" shape-rendering="crispEdges"/>
<line x1="433.5" y1="148" x2="433.5" y2="208" stroke="#ffff00" stroke-width="1" shape-rendering="crispEdges"/>
<line x1="439.5" y1="148" x2="439.5" y2="208" stroke="#ffff00" stroke-width="1" shape-rendering="crispEdges"/>
<rect x="400.5" y="176.5" width="48" height="3" stroke="#ffff00" fill="#000" stroke-width="1" shape-rendering="crispEdges"/>
<line x1="416.5" y1="149" x2="425.5" y2="176" stroke="#ffff00" stroke-width="1"/>
<line x1="418" y1="149" x2="427" y2="176" stroke="#ffff00" stroke-width="1"/>
<polyline points="419.5,163 423.5,161.5 420.5,165.5 424,164" stroke="#ffff00" fill="none" stroke-width="1"/>
<polyline points="411.5,167.5 372.5,167.5 372.5,199.5 455,199.5" stroke="#6b8e4e" fill="none" stroke-width="1" shape-rendering="crispEdges"/>
<line x1="436" y1="167.5" x2="457" y2="167.5" stroke="#6b8e4e" stroke-width="1" shape-rendering="crispEdges"/>
<ellipse cx="405" cy="167.5" rx="4" ry="1.3" stroke="#6b8e4e" fill="none"/>
<ellipse cx="443.5" cy="167.5" rx="4" ry="1.3" stroke="#6b8e4e" fill="none"/>
<line x1="465.5" y1="162" x2="465.5" y2="173" stroke="#ffffff" stroke-width="1" shape-rendering="crispEdges"/>
<line x1="461.5" y1="172.5" x2="469" y2="172.5" stroke="#ffffff" stroke-width="1" shape-rendering="crispEdges"/>
<line x1="465" y1="166.5" x2="468" y2="166.5" stroke="#ffffff" stroke-width="1" shape-rendering="crispEdges"/>
<line x1="459" y1="194.5" x2="466" y2="194.5" stroke="#ffffff" stroke-width="1" shape-rendering="crispEdges"/>
<line x1="462.5" y1="194" x2="462.5" y2="205" stroke="#ffffff" stroke-width="1" shape-rendering="crispEdges"/>
<line x1="462.5" y1="197" x2="465" y2="200" stroke="#ffffff" stroke-width="1"/>
<line x1="445" y1="207.5" x2="508" y2="207.5" stroke="#ffffff" stroke-width="1" shape-rendering="crispEdges"/>
<line x1="453.5" y1="207" x2="453.5" y2="212" stroke="#ffffff" stroke-width="1" shape-rendering="crispEdges"/>
<line x1="480.5" y1="207" x2="480.5" y2="212" stroke="#ffffff" stroke-width="1" shape-rendering="crispEdges"/>
<text x="456.5" y="141.5" font-size="13.7" fill="#ffffff" textLength="24.5" lengthAdjust="spacingAndGlyphs" stroke="#ffffff" stroke-width="0.35">FMB2</text>
<rect x="463.5" y="141.5" width="7" height="7" stroke="#ff00ff" fill="none" stroke-width="1" shape-rendering="crispEdges"/>
<line x1="467.5" y1="143" x2="467.5" y2="147" stroke="#ff00ff" stroke-width="1" shape-rendering="crispEdges"/>
<line x1="453" y1="148.5" x2="481" y2="148.5" stroke="#00ffff" stroke-width="1" shape-rendering="crispEdges"/>
<line x1="480.5" y1="144" x2="480.5" y2="172.5" stroke="#00ffff" stroke-width="2" shape-rendering="crispEdges"/>
<path d="M453.3 148.5A27.2 24 0 0 0 480.5 172.5" stroke="#00ffff" fill="none" stroke-width="1.3"/>
<line x1="480" y1="144.5" x2="486" y2="144.5" stroke="#ffffff" stroke-width="1" shape-rendering="crispEdges"/>
<line x1="480.5" y1="143.5" x2="480.5" y2="149" stroke="#ffffff" stroke-width="1" shape-rendering="crispEdges"/>
<line x1="507.5" y1="148" x2="507.5" y2="208" stroke="#ffffff" stroke-width="1" shape-rendering="crispEdges"/>
<line x1="503.5" y1="148" x2="503.5" y2="208" stroke="#00ffff" stroke-width="1" shape-rendering="crispEdges"/>
<path d="M503 149Q495 154 494.5 160L490.5 208" stroke="#6b8e4e" fill="none" stroke-width="1"/>
<text x="492.5" y="186" font-size="12" fill="#ffffff" textLength="14.5" lengthAdjust="spacingAndGlyphs" stroke="#ffffff" stroke-width="0.2">PF</text>
<line x1="488.5" y1="160" x2="488.5" y2="170" stroke="#ff00ff" stroke-width="1.5" shape-rendering="crispEdges"/>
<line x1="512.5" y1="148" x2="512.5" y2="226" stroke="#ffffff" stroke-width="1" shape-rendering="crispEdges"/>
<line x1="512" y1="136.5" x2="651" y2="136.5" stroke="#ffffff" stroke-width="1" shape-rendering="crispEdges"/>
<line x1="512" y1="141.5" x2="538" y2="141.5" stroke="#ffffff" stroke-width="1" shape-rendering="crispEdges"/>
<line x1="541" y1="141.5" x2="651" y2="141.5" stroke="#ffffff" stroke-width="1" shape-rendering="crispEdges"/>
<line x1="650.5" y1="136" x2="650.5" y2="142" stroke="#ffffff" stroke-width="1" shape-rendering="crispEdges"/>
<line x1="537.5" y1="141" x2="537.5" y2="226" stroke="#ffffff" stroke-width="1" shape-rendering="crispEdges"/>
<line x1="541.5" y1="141" x2="541.5" y2="226" stroke="#ffffff" stroke-width="1" shape-rendering="crispEdges"/>
<line x1="507.5" y1="211" x2="507.5" y2="229" stroke="#ffffff" stroke-width="1" shape-rendering="crispEdges"/>
<line x1="507" y1="228.5" x2="538" y2="228.5" stroke="#ffffff" stroke-width="1" shape-rendering="crispEdges"/>
<line x1="512" y1="224.5" x2="538" y2="224.5" stroke="#ffffff" stroke-width="1" shape-rendering="crispEdges"/>
<text x="520.8" y="170.8" font-size="12" fill="#ffffff" textLength="14.5" lengthAdjust="spacingAndGlyphs" stroke="#ffffff" stroke-width="0.2">PF</text>
<line x1="539.6" y1="163" x2="539.6" y2="182.5" stroke="#ffff00" stroke-width="2.4" stroke-dasharray="5 1.2" shape-rendering="crispEdges"/>
<line x1="539.6" y1="195" x2="539.6" y2="213.2" stroke="#ffff00" stroke-width="2.4" stroke-dasharray="5 1.2" shape-rendering="crispEdges"/>
<line x1="538" y1="152.5" x2="541.5" y2="152.5" stroke="#ffff00" stroke-width="1" shape-rendering="crispEdges"/>
<line x1="545" y1="152.5" x2="547.2" y2="152.5" stroke="#ffff00" stroke-width="1" shape-rendering="crispEdges"/>
<line x1="538" y1="198.5" x2="541.5" y2="198.5" stroke="#ffff00" stroke-width="1" shape-rendering="crispEdges"/>
<line x1="545" y1="198.5" x2="547.2" y2="198.5" stroke="#ffff00" stroke-width="1" shape-rendering="crispEdges"/>
<line x1="538" y1="211.5" x2="541.5" y2="211.5" stroke="#ffff00" stroke-width="1" shape-rendering="crispEdges"/>
<line x1="545" y1="211.5" x2="547.2" y2="211.5" stroke="#ffff00" stroke-width="1" shape-rendering="crispEdges"/>
<line x1="538" y1="224.5" x2="541.5" y2="224.5" stroke="#ffff00" stroke-width="1" shape-rendering="crispEdges"/>
<line x1="545" y1="224.5" x2="547.2" y2="224.5" stroke="#ffff00" stroke-width="1" shape-rendering="crispEdges"/>
<line x1="538" y1="186.5" x2="541" y2="186.5" stroke="#00ff00" stroke-width="1" shape-rendering="crispEdges"/>
<polyline points="541.5,162.5 564.5,175.5 659,175.5" stroke="#ffffff" fill="none" stroke-width="1"/>
<polyline points="541.5,225 564.5,210.5 659,210.5" stroke="#ffffff" fill="none" stroke-width="1"/>
<line x1="564.5" y1="175" x2="564.5" y2="211" stroke="#ffffff" stroke-width="1" shape-rendering="crispEdges"/>
<line x1="658.5" y1="166" x2="658.5" y2="211" stroke="#ffffff" stroke-width="1" shape-rendering="crispEdges"/>
<rect x="537.5" y="225.5" width="4" height="8" stroke="#ffffff" fill="none" stroke-width="1" shape-rendering="crispEdges"/>
<line x1="537.5" y1="253" x2="537.5" y2="348" stroke="#ffffff" stroke-width="1" shape-rendering="crispEdges"/>
<line x1="541.5" y1="253" x2="541.5" y2="323" stroke="#ffffff" stroke-width="1" shape-rendering="crispEdges"/>
<line x1="537" y1="253.5" x2="542" y2="253.5" stroke="#ffffff" stroke-width="1" shape-rendering="crispEdges"/>
<line x1="519.5" y1="233.5" x2="541" y2="233.5" stroke="#00ffff" stroke-width="2" shape-rendering="crispEdges"/>
<line x1="541.5" y1="233" x2="541.5" y2="254" stroke="#00ffff" stroke-width="1" shape-rendering="crispEdges"/>
<path d="M519.8 233.5A21 20 0 0 0 536.5 253.1" stroke="#00ffff" fill="none" stroke-width="1.3"/>
<text x="555" y="247.5" font-size="12.5" fill="#ffffff" textLength="23.5" lengthAdjust="spacingAndGlyphs" transform="rotate(-90 555 247.5)" stroke="#ffffff" stroke-width="0.35">FMA4</text>
<line x1="541" y1="259.5" x2="563" y2="259.5" stroke="#ffffff" stroke-width="1" shape-rendering="crispEdges"/>
<line x1="541" y1="263.5" x2="563" y2="263.5" stroke="#ffffff" stroke-width="1" shape-rendering="crispEdges"/>
<line x1="562.5" y1="259" x2="562.5" y2="264" stroke="#ffffff" stroke-width="1" shape-rendering="crispEdges"/>
<path d="M581.5 241A18.7 18.5 0 0 0 562.8 259.5" stroke="#00ffff" fill="none" stroke-width="1.3"/>
<line x1="581.5" y1="241" x2="581.5" y2="264" stroke="#00ffff" stroke-width="2" shape-rendering="crispEdges"/>
<text x="565.5" y="254.2" font-size="10.5" fill="#ffffff" textLength="19.5" lengthAdjust="spacingAndGlyphs" stroke="#ffffff" stroke-width="0.35">FMB3</text>
<line x1="582" y1="259.5" x2="678" y2="259.5" stroke="#ffffff" stroke-width="1" shape-rendering="crispEdges"/>
<line x1="582" y1="263.5" x2="678" y2="263.5" stroke="#ffffff" stroke-width="1" shape-rendering="crispEdges"/>
<line x1="582.5" y1="259" x2="582.5" y2="264" stroke="#ffffff" stroke-width="1" shape-rendering="crispEdges"/>
<line x1="677.5" y1="259" x2="677.5" y2="264" stroke="#ffffff" stroke-width="1" shape-rendering="crispEdges"/>
<path d="M697.5 241.3A20 18.4 0 0 0 677.5 259.7" stroke="#00ffff" fill="none" stroke-width="1.3"/>
<line x1="697.5" y1="241" x2="697.5" y2="264" stroke="#00ffff" stroke-width="2" shape-rendering="crispEdges"/>
<text x="680.5" y="254.2" font-size="10.5" fill="#ffffff" textLength="19.5" lengthAdjust="spacingAndGlyphs" stroke="#ffffff" stroke-width="0.35">FMB3</text>
<line x1="596.5" y1="263" x2="596.5" y2="323" stroke="#ffffff" stroke-width="1" shape-rendering="crispEdges"/>
<line x1="600.5" y1="263" x2="600.5" y2="323" stroke="#ffffff" stroke-width="1" shape-rendering="crispEdges"/>
<line x1="703.5" y1="148" x2="703.5" y2="260" stroke="#ffffff" stroke-width="1" shape-rendering="crispEdges"/>
<line x1="708.5" y1="148" x2="708.5" y2="264" stroke="#ffffff" stroke-width="1" shape-rendering="crispEdges"/>
<line x1="699" y1="259.5" x2="704" y2="259.5" stroke="#ffffff" stroke-width="1" shape-rendering="crispEdges"/>
<line x1="698" y1="263.5" x2="709" y2="263.5" stroke="#ffffff" stroke-width="1" shape-rendering="crispEdges"/>
<line x1="651" y1="122.5" x2="651" y2="141" stroke="#00ffff" stroke-width="2" shape-rendering="crispEdges"/>
<line x1="685" y1="122.5" x2="685" y2="141" stroke="#00ffff" stroke-width="2" shape-rendering="crispEdges"/>
<path d="M651 122.8A17.2 17.7 0 0 1 668.2 140.5M685 122.8A17.2 17.7 0 0 0 667.8 140.5" stroke="#00ffff" fill="none" stroke-width="1.3"/>
<rect x="684.5" y="136.5" width="5" height="5" stroke="#ffffff" fill="none" stroke-width="1" shape-rendering="crispEdges"/>
<text x="656.5" y="156.8" font-size="14" fill="#ffffff" textLength="23" lengthAdjust="spacingAndGlyphs" stroke="#ffffff" stroke-width="0.35">FMA2</text>
<rect x="660.5" y="150.5" width="45" height="29" stroke="#ffff00" fill="none" stroke-width="1" shape-rendering="crispEdges"/>
<rect x="662.5" y="152.5" width="41" height="25" stroke="#ffff00" fill="none" stroke-dasharray="4 2" shape-rendering="crispEdges"/>
<text x="688.5" y="170.5" font-size="11.5" fill="#ffffff" textLength="12" lengthAdjust="spacingAndGlyphs" stroke="#ffffff" stroke-width="0.35">JF</text>
<line x1="660" y1="150.5" x2="689" y2="150.5" stroke="#000" stroke-width="1" shape-rendering="crispEdges"/>
<line x1="660" y1="150.5" x2="689" y2="150.5" stroke="#ffff00" stroke-dasharray="4 2" shape-rendering="crispEdges"/>
<line x1="716" y1="120.5" x2="827" y2="120.5" stroke="#ffffff" stroke-width="1" shape-rendering="crispEdges"/>
<line x1="716" y1="125.5" x2="822" y2="125.5" stroke="#ffffff" stroke-width="1" shape-rendering="crispEdges"/>
<line x1="826.5" y1="120" x2="826.5" y2="173" stroke="#ffffff" stroke-width="1" shape-rendering="crispEdges"/>
<line x1="821.5" y1="125" x2="821.5" y2="173" stroke="#ffffff" stroke-width="1" shape-rendering="crispEdges"/>
<line x1="826.5" y1="213" x2="826.5" y2="256" stroke="#ffffff" stroke-width="1" shape-rendering="crispEdges"/>
<line x1="821.5" y1="213" x2="821.5" y2="256" stroke="#ffffff" stroke-width="1" shape-rendering="crispEdges"/>
<line x1="826.5" y1="296" x2="826.5" y2="328" stroke="#ffffff" stroke-width="1" shape-rendering="crispEdges"/>
<line x1="821.5" y1="296" x2="821.5" y2="323" stroke="#ffffff" stroke-width="1" shape-rendering="crispEdges"/>
<rect x="810.5" y="172.5" width="10" height="40.5" stroke="#ffff00" fill="none" stroke-width="1" shape-rendering="crispEdges"/>
<line x1="815.5" y1="172.5" x2="815.5" y2="213" stroke="#ffff00" stroke-width="1" shape-rendering="crispEdges"/>
<line x1="824.2" y1="173" x2="844.5" y2="173" stroke="#00ffff" stroke-width="2" shape-rendering="crispEdges"/>
<line x1="824.2" y1="212.5" x2="844.5" y2="212.5" stroke="#00ffff" stroke-width="2" shape-rendering="crispEdges"/>
<path d="M844.5 173A20.3 20.25 0 0 1 824.2 192.95M844.5 212.5A20.3 20.25 0 0 0 824.2 192.55" stroke="#00ffff" fill="none" stroke-width="1.3"/>
<rect x="810.5" y="255.5" width="10" height="41" stroke="#ffff00" fill="none" stroke-width="1" shape-rendering="crispEdges"/>
<line x1="815.5" y1="255.5" x2="815.5" y2="296.5" stroke="#ffff00" stroke-width="1" shape-rendering="crispEdges"/>
<line x1="821.5" y1="256" x2="841.5" y2="256" stroke="#00ffff" stroke-width="2" shape-rendering="crispEdges"/>
<line x1="821.5" y1="296" x2="841.5" y2="296" stroke="#00ffff" stroke-width="2" shape-rendering="crispEdges"/>
<path d="M841.5 256A20 20.5 0 0 1 821.5 276.2M841.5 296A20 20.5 0 0 0 821.5 275.8" stroke="#00ffff" fill="none" stroke-width="1.3"/>
<line x1="821.5" y1="125" x2="821.5" y2="323" stroke="#ffffff" stroke-width="1" shape-rendering="crispEdges"/>
<text x="845" y="180" font-size="11.5" fill="#ffffff" textLength="22" lengthAdjust="spacingAndGlyphs" transform="rotate(90 845 180)" stroke="#ffffff" stroke-width="0.35">FMA1</text>
<text x="841.5" y="262.5" font-size="11.5" fill="#ffffff" textLength="22" lengthAdjust="spacingAndGlyphs" transform="rotate(90 841.5 262.5)" stroke="#ffffff" stroke-width="0.35">FMA1</text>
<rect x="178.5" y="60.5" width="2.5" height="24" stroke="#00ffff" fill="none" stroke-width="1" shape-rendering="crispEdges"/>
<line x1="228" y1="60.5" x2="228" y2="84.5" stroke="#00ffff" stroke-width="2" shape-rendering="crispEdges"/>
<path d="M180.5 60.5A23.55 24 0 0 1 204.05 84.5" stroke="#00ffff" fill="none" stroke-width="1.3"/>
<path d="M228 60.5A24.55 24 0 0 0 203.45 84.5" stroke="#00ffff" fill="none" stroke-width="1.3"/>
<rect x="180.5" y="84.5" width="47" height="18" stroke="#ffff00" fill="none" stroke-width="1" shape-rendering="crispEdges"/>
<line x1="180.5" y1="90.5" x2="227.5" y2="90.5" stroke="#ffff00" stroke-width="1" shape-rendering="crispEdges"/>
<line x1="180.5" y1="96.5" x2="227.5" y2="96.5" stroke="#ffff00" stroke-width="1" shape-rendering="crispEdges"/>
<line x1="259.3" y1="60.5" x2="259.3" y2="84.5" stroke="#00ffff" stroke-width="2" shape-rendering="crispEdges"/>
<line x1="308" y1="60.5" x2="308" y2="84.5" stroke="#00ffff" stroke-width="2" shape-rendering="crispEdges"/>
<path d="M259.3 60.5A24.65 24 0 0 1 283.95 84.5" stroke="#00ffff" fill="none" stroke-width="1.3"/>
<path d="M308 60.5A24.65 24 0 0 0 283.35 84.5" stroke="#00ffff" fill="none" stroke-width="1.3"/>
<rect x="260.3" y="84.5" width="47.2" height="18" stroke="#ffff00" fill="none" stroke-width="1" shape-rendering="crispEdges"/>
<line x1="260.3" y1="90.5" x2="307.5" y2="90.5" stroke="#ffff00" stroke-width="1" shape-rendering="crispEdges"/>
<line x1="260.3" y1="96.5" x2="307.5" y2="96.5" stroke="#ffff00" stroke-width="1" shape-rendering="crispEdges"/>
<text x="188" y="62.5" font-size="17" fill="#ffffff" textLength="28" lengthAdjust="spacingAndGlyphs" stroke="#ffffff" stroke-width="0.35">FMA2</text>
<text x="268" y="62.5" font-size="17" fill="#ffffff" textLength="28" lengthAdjust="spacingAndGlyphs" stroke="#ffffff" stroke-width="0.35">FMA2</text>
<line x1="122.5" y1="221" x2="145" y2="221" stroke="#00ffff" stroke-width="2" shape-rendering="crispEdges"/>
<line x1="122.5" y1="260.5" x2="145" y2="260.5" stroke="#00ffff" stroke-width="2" shape-rendering="crispEdges"/>
<path d="M122.6 221A20 19.9 0 0 0 142.6 240.9M122.6 260.7A20 19.9 0 0 1 142.6 240.8" stroke="#00ffff" fill="none" stroke-width="1.3"/>
<text x="124.5" y="254.5" font-size="14" fill="#ffffff" textLength="22" lengthAdjust="spacingAndGlyphs" transform="rotate(-90 124.5 254.5)" stroke="#ffffff" stroke-width="0.35">FMA1</text>
<rect x="181.5" y="116.5" width="45" height="34" stroke="#ffffff" fill="none" stroke-width="1" shape-rendering="crispEdges"/>
<text x="187.8" y="131.8" font-size="12.4" fill="#ff00ff" textLength="4.5" lengthAdjust="spacingAndGlyphs" stroke="#ff00ff" stroke-width="0.15">3</text>
<path d="M193.7 129.8l5 -2.6M194.4 131.7l1.2 -4.2M196.6 130.7l1.2 -4.2" stroke="#ff00ff" fill="none" stroke-width="1.1"/>
<path d="M204.9 122.1L204.9 123.37M201.9 123.57L207.9 123.57M203.9 123.57L203.9 126.61M205.9 123.57L205.9 126.61M202.3 125.04L202.9 126.61M207.5 125.04L206.9 126.61M202.9 127.59L206.9 127.59L202.2 131.9M203.5 128.57L207.9 131.9" stroke="#ff00ff" fill="none" stroke-width="1.1" stroke-linejoin="miter"/>
<path d="M209.5 123.08L215 123.08M209.7 123.08L209.7 129.45L209 131.9M211.2 126.61L215 126.61M213 124.65L213 130.92M210.8 130.92L215 130.92M214 128.27L214.7 129.55" stroke="#ff00ff" fill="none" stroke-width="1.1" stroke-linejoin="miter"/>
<path d="M216.7 122.1L219.03 122.1L219.03 124.65L216.7 124.65L216.7 122.1M219.97 122.1L222.3 122.1L222.3 124.65L219.97 124.65L219.97 122.1M216.7 126.61L222.3 126.61M219.5 125.24L219.5 126.61L216.7 128.96M219.5 126.61L222.3 128.96M220.99 125.33L221.65 126.02M216.7 129.55L219.03 129.55L219.03 131.9L216.7 131.9L216.7 129.55M219.97 129.55L222.3 129.55L222.3 131.9L219.97 131.9L219.97 129.55" stroke="#ff00ff" fill="none" stroke-width="1.1" stroke-linejoin="miter"/>
<text x="184.9" y="142.9" font-size="11" fill="#ff00ff" textLength="19.1" lengthAdjust="spacingAndGlyphs" stroke="#ff00ff" stroke-width="0.15">1250</text>
<text x="207" y="142.9" font-size="11" fill="#ff00ff" textLength="16" lengthAdjust="spacingAndGlyphs" stroke="#ff00ff" stroke-width="0.15">kVA</text>
<rect x="276.5" y="116.5" width="45" height="34" stroke="#ffffff" fill="none" stroke-width="1" shape-rendering="crispEdges"/>
<text x="282.8" y="131.8" font-size="12.4" fill="#ff00ff" textLength="4.5" lengthAdjust="spacingAndGlyphs" stroke="#ff00ff" stroke-width="0.15">2</text>
<path d="M288.7 129.8l5 -2.6M289.4 131.7l1.2 -4.2M291.6 130.7l1.2 -4.2" stroke="#ff00ff" fill="none" stroke-width="1.1"/>
<path d="M299.9 122.1L299.9 123.37M296.9 123.57L302.9 123.57M298.9 123.57L298.9 126.61M300.9 123.57L300.9 126.61M297.3 125.04L297.9 126.61M302.5 125.04L301.9 126.61M297.9 127.59L301.9 127.59L297.2 131.9M298.5 128.57L302.9 131.9" stroke="#ff00ff" fill="none" stroke-width="1.1" stroke-linejoin="miter"/>
<path d="M304.5 123.08L310 123.08M304.7 123.08L304.7 129.45L304 131.9M306.2 126.61L310 126.61M308 124.65L308 130.92M305.8 130.92L310 130.92M309 128.27L309.7 129.55" stroke="#ff00ff" fill="none" stroke-width="1.1" stroke-linejoin="miter"/>
<path d="M311.7 122.1L314.03 122.1L314.03 124.65L311.7 124.65L311.7 122.1M314.97 122.1L317.3 122.1L317.3 124.65L314.97 124.65L314.97 122.1M311.7 126.61L317.3 126.61M314.5 125.24L314.5 126.61L311.7 128.96M314.5 126.61L317.3 128.96M315.99 125.33L316.65 126.02M311.7 129.55L314.03 129.55L314.03 131.9L311.7 131.9L311.7 129.55M314.97 129.55L317.3 129.55L317.3 131.9L314.97 131.9L314.97 129.55" stroke="#ff00ff" fill="none" stroke-width="1.1" stroke-linejoin="miter"/>
<text x="279.9" y="142.9" font-size="11" fill="#ff00ff" textLength="19.1" lengthAdjust="spacingAndGlyphs" stroke="#ff00ff" stroke-width="0.15">1250</text>
<text x="302" y="142.9" font-size="11" fill="#ff00ff" textLength="16" lengthAdjust="spacingAndGlyphs" stroke="#ff00ff" stroke-width="0.15">kVA</text>
<rect x="473.5" y="265.5" width="46" height="34" stroke="#ffffff" fill="none" stroke-width="1" shape-rendering="crispEdges"/>
<text x="480.3" y="280.8" font-size="12.4" fill="#ff00ff" textLength="4.5" lengthAdjust="spacingAndGlyphs" stroke="#ff00ff" stroke-width="0.15">1</text>
<path d="M486.2 278.8l5 -2.6M486.9 280.7l1.2 -4.2M489.1 279.7l1.2 -4.2" stroke="#ff00ff" fill="none" stroke-width="1.1"/>
<path d="M497.4 271.1L497.4 272.37M494.4 272.57L500.4 272.57M496.4 272.57L496.4 275.61M498.4 272.57L498.4 275.61M494.8 274.04L495.4 275.61M500 274.04L499.4 275.61M495.4 276.59L499.4 276.59L494.7 280.9M496 277.57L500.4 280.9" stroke="#ff00ff" fill="none" stroke-width="1.1" stroke-linejoin="miter"/>
<path d="M502 272.08L507.5 272.08M502.2 272.08L502.2 278.45L501.5 280.9M503.7 275.61L507.5 275.61M505.5 273.65L505.5 279.92M503.3 279.92L507.5 279.92M506.5 277.27L507.2 278.55" stroke="#ff00ff" fill="none" stroke-width="1.1" stroke-linejoin="miter"/>
<path d="M509.2 271.1L511.53 271.1L511.53 273.65L509.2 273.65L509.2 271.1M512.47 271.1L514.8 271.1L514.8 273.65L512.47 273.65L512.47 271.1M509.2 275.61L514.8 275.61M512 274.24L512 275.61L509.2 277.96M512 275.61L514.8 277.96M513.49 274.33L514.15 275.02M509.2 278.55L511.53 278.55L511.53 280.9L509.2 280.9L509.2 278.55M512.47 278.55L514.8 278.55L514.8 280.9L512.47 280.9L512.47 278.55" stroke="#ff00ff" fill="none" stroke-width="1.1" stroke-linejoin="miter"/>
<text x="477.4" y="291.9" font-size="11" fill="#ff00ff" textLength="19.1" lengthAdjust="spacingAndGlyphs" stroke="#ff00ff" stroke-width="0.15">1250</text>
<text x="499.5" y="291.9" font-size="11" fill="#ff00ff" textLength="16" lengthAdjust="spacingAndGlyphs" stroke="#ff00ff" stroke-width="0.15">kVA</text>
<rect x="172.5" y="177.5" width="127" height="34" stroke="#ff0000" fill="none" stroke-width="1" shape-rendering="crispEdges"/>
<line x1="190.5" y1="177" x2="190.5" y2="212" stroke="#ff0000" stroke-width="1" shape-rendering="crispEdges"/>
<line x1="208.5" y1="177" x2="208.5" y2="212" stroke="#ff0000" stroke-width="1" shape-rendering="crispEdges"/>
<line x1="226.5" y1="177" x2="226.5" y2="212" stroke="#ff0000" stroke-width="1" shape-rendering="crispEdges"/>
<line x1="244.5" y1="177" x2="244.5" y2="212" stroke="#ff0000" stroke-width="1" shape-rendering="crispEdges"/>
<line x1="262.5" y1="177" x2="262.5" y2="212" stroke="#ff0000" stroke-width="1" shape-rendering="crispEdges"/>
<line x1="281.5" y1="177" x2="281.5" y2="212" stroke="#ff0000" stroke-width="1" shape-rendering="crispEdges"/>
<rect x="299.5" y="197.5" width="18" height="14" stroke="#ff0000" fill="none" stroke-width="1" shape-rendering="crispEdges"/>
<line x1="172" y1="207.5" x2="318" y2="207.5" stroke="#ffff00" stroke-width="1" shape-rendering="crispEdges"/>
<text x="175.3" y="201.3" font-size="8.8" fill="#ff00ff" textLength="11.2" lengthAdjust="spacingAndGlyphs" stroke="#ff00ff" stroke-width="0.15">Q01</text>
<text x="193.3" y="201.3" font-size="8.8" fill="#ff00ff" textLength="11.2" lengthAdjust="spacingAndGlyphs" stroke="#ff00ff" stroke-width="0.15">Q02</text>
<text x="211.3" y="201.3" font-size="8.8" fill="#ff00ff" textLength="11.2" lengthAdjust="spacingAndGlyphs" stroke="#ff00ff" stroke-width="0.15">Q03</text>
<text x="229.3" y="201.3" font-size="8.8" fill="#ff00ff" textLength="11.2" lengthAdjust="spacingAndGlyphs" stroke="#ff00ff" stroke-width="0.15">Q04</text>
<text x="247.3" y="201.3" font-size="8.8" fill="#ff00ff" textLength="11.2" lengthAdjust="spacingAndGlyphs" stroke="#ff00ff" stroke-width="0.15">Q05</text>
<text x="265.3" y="201.3" font-size="8.8" fill="#ff00ff" textLength="11.2" lengthAdjust="spacingAndGlyphs" stroke="#ff00ff" stroke-width="0.15">Q06</text>
<text x="284.3" y="201.3" font-size="8.8" fill="#ff00ff" textLength="11.2" lengthAdjust="spacingAndGlyphs" stroke="#ff00ff" stroke-width="0.15">Q07</text>
<text x="303" y="206.5" font-size="9" fill="#ff00ff" textLength="13.5" lengthAdjust="spacingAndGlyphs" stroke="#ff00ff" stroke-width="0.15">ZLP</text>
<rect x="163.5" y="270.5" width="304" height="23" stroke="#ff0000" fill="none" stroke-width="1" shape-rendering="crispEdges"/>
<line x1="181.5" y1="270" x2="181.5" y2="294" stroke="#ff0000" stroke-width="1" shape-rendering="crispEdges"/>
<line x1="199.5" y1="270" x2="199.5" y2="294" stroke="#ff0000" stroke-width="1" shape-rendering="crispEdges"/>
<line x1="217.5" y1="270" x2="217.5" y2="294" stroke="#ff0000" stroke-width="1" shape-rendering="crispEdges"/>
<line x1="240.5" y1="270" x2="240.5" y2="294" stroke="#ff0000" stroke-width="1" shape-rendering="crispEdges"/>
<line x1="262.5" y1="270" x2="262.5" y2="294" stroke="#ff0000" stroke-width="1" shape-rendering="crispEdges"/>
<line x1="276.5" y1="270" x2="276.5" y2="294" stroke="#ff0000" stroke-width="1" shape-rendering="crispEdges"/>
<line x1="294.5" y1="270" x2="294.5" y2="294" stroke="#ff0000" stroke-width="1" shape-rendering="crispEdges"/>
<line x1="317.5" y1="270" x2="317.5" y2="294" stroke="#ff0000" stroke-width="1" shape-rendering="crispEdges"/>
<line x1="335.5" y1="270" x2="335.5" y2="294" stroke="#ff0000" stroke-width="1" shape-rendering="crispEdges"/>
<line x1="353.5" y1="270" x2="353.5" y2="294" stroke="#ff0000" stroke-width="1" shape-rendering="crispEdges"/>
<line x1="376.5" y1="270" x2="376.5" y2="294" stroke="#ff0000" stroke-width="1" shape-rendering="crispEdges"/>
<line x1="389.5" y1="270" x2="389.5" y2="294" stroke="#ff0000" stroke-width="1" shape-rendering="crispEdges"/>
<line x1="408.5" y1="270" x2="408.5" y2="294" stroke="#ff0000" stroke-width="1" shape-rendering="crispEdges"/>
<line x1="426.5" y1="270" x2="426.5" y2="294" stroke="#ff0000" stroke-width="1" shape-rendering="crispEdges"/>
<line x1="445.5" y1="270" x2="445.5" y2="294" stroke="#ff0000" stroke-width="1" shape-rendering="crispEdges"/>
<text x="168.1" y="286" font-size="8.4" fill="#ffffff" textLength="7.8" lengthAdjust="spacingAndGlyphs" stroke="#ffffff" stroke-width="0.35">P16</text>
<text x="186.1" y="286" font-size="8.4" fill="#ffffff" textLength="7.8" lengthAdjust="spacingAndGlyphs" stroke="#ffffff" stroke-width="0.35">P15</text>
<text x="204.1" y="286" font-size="8.4" fill="#ffffff" textLength="7.8" lengthAdjust="spacingAndGlyphs" stroke="#ffffff" stroke-width="0.35">P14</text>
<text x="224.6" y="286" font-size="8.4" fill="#ff0000" textLength="7.8" lengthAdjust="spacingAndGlyphs" stroke="#ff0000" stroke-width="0.35">P13</text>
<text x="247.1" y="286" font-size="8.4" fill="#00ff00" textLength="7.8" lengthAdjust="spacingAndGlyphs" stroke="#00ff00" stroke-width="0.35">P12</text>
<text x="265.1" y="286" font-size="8.4" fill="#ffffff" textLength="7.8" lengthAdjust="spacingAndGlyphs" stroke="#ffffff" stroke-width="0.35">P11</text>
<text x="281.1" y="286" font-size="8.4" fill="#ffffff" textLength="7.8" lengthAdjust="spacingAndGlyphs" stroke="#ffffff" stroke-width="0.35">P10</text>
<text x="301.6" y="286" font-size="8.4" fill="#ff0000" textLength="7.8" lengthAdjust="spacingAndGlyphs" stroke="#ff0000" stroke-width="0.35">P09</text>
<text x="322.1" y="286" font-size="8.4" fill="#ffffff" textLength="7.8" lengthAdjust="spacingAndGlyphs" stroke="#ffffff" stroke-width="0.35">P08</text>
<text x="340.1" y="286" font-size="8.4" fill="#ffffff" textLength="7.8" lengthAdjust="spacingAndGlyphs" stroke="#ffffff" stroke-width="0.35">P07</text>
<text x="360.6" y="286" font-size="8.4" fill="#00ff00" textLength="7.8" lengthAdjust="spacingAndGlyphs" stroke="#00ff00" stroke-width="0.35">P06</text>
<text x="378.6" y="286" font-size="8.4" fill="#ffffff" textLength="7.8" lengthAdjust="spacingAndGlyphs" stroke="#ffffff" stroke-width="0.35">P05</text>
<text x="394.6" y="286" font-size="8.4" fill="#ffffff" textLength="7.8" lengthAdjust="spacingAndGlyphs" stroke="#ffffff" stroke-width="0.35">P04</text>
<text x="413.1" y="286" font-size="8.4" fill="#ffffff" textLength="7.8" lengthAdjust="spacingAndGlyphs" stroke="#ffffff" stroke-width="0.35">P03</text>
<text x="431.6" y="286" font-size="8.4" fill="#ffffff" textLength="7.8" lengthAdjust="spacingAndGlyphs" stroke="#ffffff" stroke-width="0.35">P02</text>
<text x="452.1" y="286" font-size="8.4" fill="#ff0000" textLength="7.8" lengthAdjust="spacingAndGlyphs" stroke="#ff0000" stroke-width="0.35">P01</text>
<polyline points="333,87.5 169.5,87.5 169.5,150.5 148.5,150.5 148.5,311.5 163.5,311.5 163.5,318.5 535.5,318.5 535.5,230.5 504.5,230.5 504.5,215.5 332.5,215.5 332.5,87.5" stroke="#00ffff" fill="none" stroke-width="1" shape-rendering="crispEdges"/>
<line x1="148" y1="162.5" x2="333" y2="162.5" stroke="#00ffff" stroke-width="1" shape-rendering="crispEdges"/>
<line x1="148" y1="243.5" x2="536" y2="243.5" stroke="#00ffff" stroke-width="1" shape-rendering="crispEdges"/>
<line x1="196.5" y1="161" x2="214" y2="161" stroke="#00ff00" stroke-width="1" shape-rendering="crispEdges"/>
<line x1="196.5" y1="164" x2="214" y2="164" stroke="#00ff00" stroke-width="1" shape-rendering="crispEdges"/>
<line x1="196.5" y1="159" x2="196.5" y2="166" stroke="#00ff00" stroke-width="1" shape-rendering="crispEdges"/>
<line x1="214" y1="159" x2="214" y2="166" stroke="#00ff00" stroke-width="1" shape-rendering="crispEdges"/>
<line x1="241.5" y1="161" x2="258.5" y2="161" stroke="#00ff00" stroke-width="1" shape-rendering="crispEdges"/>
<line x1="241.5" y1="164" x2="258.5" y2="164" stroke="#00ff00" stroke-width="1" shape-rendering="crispEdges"/>
<line x1="241.5" y1="159" x2="241.5" y2="166" stroke="#00ff00" stroke-width="1" shape-rendering="crispEdges"/>
<line x1="258.5" y1="159" x2="258.5" y2="166" stroke="#00ff00" stroke-width="1" shape-rendering="crispEdges"/>
<line x1="291.5" y1="161" x2="308.5" y2="161" stroke="#00ff00" stroke-width="1" shape-rendering="crispEdges"/>
<line x1="291.5" y1="164" x2="308.5" y2="164" stroke="#00ff00" stroke-width="1" shape-rendering="crispEdges"/>
<line x1="291.5" y1="159" x2="291.5" y2="166" stroke="#00ff00" stroke-width="1" shape-rendering="crispEdges"/>
<line x1="308.5" y1="159" x2="308.5" y2="166" stroke="#00ff00" stroke-width="1" shape-rendering="crispEdges"/>
<line x1="171.5" y1="242" x2="187.5" y2="242" stroke="#00ff00" stroke-width="1" shape-rendering="crispEdges"/>
<line x1="171.5" y1="245" x2="187.5" y2="245" stroke="#00ff00" stroke-width="1" shape-rendering="crispEdges"/>
<line x1="171.5" y1="240" x2="171.5" y2="247" stroke="#00ff00" stroke-width="1" shape-rendering="crispEdges"/>
<line x1="187.5" y1="240" x2="187.5" y2="247" stroke="#00ff00" stroke-width="1" shape-rendering="crispEdges"/>
<line x1="208.5" y1="242" x2="224.5" y2="242" stroke="#00ff00" stroke-width="1" shape-rendering="crispEdges"/>
<line x1="208.5" y1="245" x2="224.5" y2="245" stroke="#00ff00" stroke-width="1" shape-rendering="crispEdges"/>
<line x1="208.5" y1="240" x2="208.5" y2="247" stroke="#00ff00" stroke-width="1" shape-rendering="crispEdges"/>
<line x1="224.5" y1="240" x2="224.5" y2="247" stroke="#00ff00" stroke-width="1" shape-rendering="crispEdges"/>
<line x1="248.5" y1="242" x2="264.5" y2="242" stroke="#00ff00" stroke-width="1" shape-rendering="crispEdges"/>
<line x1="248.5" y1="245" x2="264.5" y2="245" stroke="#00ff00" stroke-width="1" shape-rendering="crispEdges"/>
<line x1="248.5" y1="240" x2="248.5" y2="247" stroke="#00ff00" stroke-width="1" shape-rendering="crispEdges"/>
<line x1="264.5" y1="240" x2="264.5" y2="247" stroke="#00ff00" stroke-width="1" shape-rendering="crispEdges"/>
<line x1="289.5" y1="242" x2="305.5" y2="242" stroke="#00ff00" stroke-width="1" shape-rendering="crispEdges"/>
<line x1="289.5" y1="245" x2="305.5" y2="245" stroke="#00ff00" stroke-width="1" shape-rendering="crispEdges"/>
<line x1="289.5" y1="240" x2="289.5" y2="247" stroke="#00ff00" stroke-width="1" shape-rendering="crispEdges"/>
<line x1="305.5" y1="240" x2="305.5" y2="247" stroke="#00ff00" stroke-width="1" shape-rendering="crispEdges"/>
<line x1="329.5" y1="242" x2="345.5" y2="242" stroke="#00ff00" stroke-width="1" shape-rendering="crispEdges"/>
<line x1="329.5" y1="245" x2="345.5" y2="245" stroke="#00ff00" stroke-width="1" shape-rendering="crispEdges"/>
<line x1="329.5" y1="240" x2="329.5" y2="247" stroke="#00ff00" stroke-width="1" shape-rendering="crispEdges"/>
<line x1="345.5" y1="240" x2="345.5" y2="247" stroke="#00ff00" stroke-width="1" shape-rendering="crispEdges"/>
<line x1="369.5" y1="242" x2="385.5" y2="242" stroke="#00ff00" stroke-width="1" shape-rendering="crispEdges"/>
<line x1="369.5" y1="245" x2="385.5" y2="245" stroke="#00ff00" stroke-width="1" shape-rendering="crispEdges"/>
<line x1="369.5" y1="240" x2="369.5" y2="247" stroke="#00ff00" stroke-width="1" shape-rendering="crispEdges"/>
<line x1="385.5" y1="240" x2="385.5" y2="247" stroke="#00ff00" stroke-width="1" shape-rendering="crispEdges"/>
<line x1="413.5" y1="242" x2="429.5" y2="242" stroke="#00ff00" stroke-width="1" shape-rendering="crispEdges"/>
<line x1="413.5" y1="245" x2="429.5" y2="245" stroke="#00ff00" stroke-width="1" shape-rendering="crispEdges"/>
<line x1="413.5" y1="240" x2="413.5" y2="247" stroke="#00ff00" stroke-width="1" shape-rendering="crispEdges"/>
<line x1="429.5" y1="240" x2="429.5" y2="247" stroke="#00ff00" stroke-width="1" shape-rendering="crispEdges"/>
<line x1="456.5" y1="242" x2="472.5" y2="242" stroke="#00ff00" stroke-width="1" shape-rendering="crispEdges"/>
<line x1="456.5" y1="245" x2="472.5" y2="245" stroke="#00ff00" stroke-width="1" shape-rendering="crispEdges"/>
<line x1="456.5" y1="240" x2="456.5" y2="247" stroke="#00ff00" stroke-width="1" shape-rendering="crispEdges"/>
<line x1="472.5" y1="240" x2="472.5" y2="247" stroke="#00ff00" stroke-width="1" shape-rendering="crispEdges"/>
<line x1="493.5" y1="242" x2="510.5" y2="242" stroke="#00ff00" stroke-width="1" shape-rendering="crispEdges"/>
<line x1="493.5" y1="245" x2="510.5" y2="245" stroke="#00ff00" stroke-width="1" shape-rendering="crispEdges"/>
<line x1="493.5" y1="240" x2="493.5" y2="247" stroke="#00ff00" stroke-width="1" shape-rendering="crispEdges"/>
<line x1="510.5" y1="240" x2="510.5" y2="247" stroke="#00ff00" stroke-width="1" shape-rendering="crispEdges"/>
<line x1="195.5" y1="102.5" x2="213" y2="102.5" stroke="#00ff00" stroke-width="1" shape-rendering="crispEdges"/>
<line x1="195.5" y1="101" x2="195.5" y2="104.5" stroke="#00ff00" stroke-width="1" shape-rendering="crispEdges"/>
<line x1="213" y1="101" x2="213" y2="104.5" stroke="#00ff00" stroke-width="1" shape-rendering="crispEdges"/>
<line x1="290.5" y1="102.5" x2="306.5" y2="102.5" stroke="#00ff00" stroke-width="1" shape-rendering="crispEdges"/>
<line x1="290.5" y1="101" x2="290.5" y2="104.5" stroke="#00ff00" stroke-width="1" shape-rendering="crispEdges"/>
<line x1="306.5" y1="101" x2="306.5" y2="104.5" stroke="#00ff00" stroke-width="1" shape-rendering="crispEdges"/>
<line x1="176.5" y1="316" x2="176.5" y2="320" stroke="#00ff00" stroke-width="1" shape-rendering="crispEdges"/>
<line x1="192.5" y1="316" x2="192.5" y2="320" stroke="#00ff00" stroke-width="1" shape-rendering="crispEdges"/>
<line x1="217.5" y1="316" x2="217.5" y2="320" stroke="#00ff00" stroke-width="1" shape-rendering="crispEdges"/>
<line x1="233.5" y1="316" x2="233.5" y2="320" stroke="#00ff00" stroke-width="1" shape-rendering="crispEdges"/>
<line x1="269.5" y1="316" x2="269.5" y2="320" stroke="#00ff00" stroke-width="1" shape-rendering="crispEdges"/>
<line x1="285.5" y1="316" x2="285.5" y2="320" stroke="#00ff00" stroke-width="1" shape-rendering="crispEdges"/>
<line x1="320.5" y1="316" x2="320.5" y2="320" stroke="#00ff00" stroke-width="1" shape-rendering="crispEdges"/>
<line x1="337.5" y1="316" x2="337.5" y2="320" stroke="#00ff00" stroke-width="1" shape-rendering="crispEdges"/>
<line x1="366.5" y1="316" x2="366.5" y2="320" stroke="#00ff00" stroke-width="1" shape-rendering="crispEdges"/>
<line x1="382.5" y1="316" x2="382.5" y2="320" stroke="#00ff00" stroke-width="1" shape-rendering="crispEdges"/>
<line x1="430.5" y1="316" x2="430.5" y2="320" stroke="#00ff00" stroke-width="1" shape-rendering="crispEdges"/>
<line x1="446.5" y1="316" x2="446.5" y2="320" stroke="#00ff00" stroke-width="1" shape-rendering="crispEdges"/>
<line x1="481.5" y1="316" x2="481.5" y2="320" stroke="#00ff00" stroke-width="1" shape-rendering="crispEdges"/>
<circle cx="158.5" cy="81" r="4.2" stroke="#ffffff" fill="none" stroke-width="1"/>
<line x1="156" y1="78.5" x2="161" y2="83.5" stroke="#ffffff" stroke-width="1"/>
<line x1="156" y1="83.5" x2="161" y2="78.5" stroke="#ffffff" stroke-width="1"/>
<circle cx="244.5" cy="81" r="4.2" stroke="#ffffff" fill="none" stroke-width="1"/>
<line x1="242" y1="78.5" x2="247" y2="83.5" stroke="#ffffff" stroke-width="1"/>
<line x1="242" y1="83.5" x2="247" y2="78.5" stroke="#ffffff" stroke-width="1"/>
<circle cx="142.5" cy="180.5" r="4.2" stroke="#ffffff" fill="none" stroke-width="1"/>
<line x1="140" y1="178" x2="145" y2="183" stroke="#ffffff" stroke-width="1"/>
<line x1="140" y1="183" x2="145" y2="178" stroke="#ffffff" stroke-width="1"/>
<circle cx="142.5" cy="283.5" r="4.2" stroke="#ffffff" fill="none" stroke-width="1"/>
<line x1="140" y1="281" x2="145" y2="286" stroke="#ffffff" stroke-width="1"/>
<line x1="140" y1="286" x2="145" y2="281" stroke="#ffffff" stroke-width="1"/>
<polygon points="150.5,90 166,90 162,85 154.5,85" stroke="#00ff00" fill="none" stroke-width="0.9"/>
<polygon points="153,89 163.5,89 162,85 154.5,85" stroke="#00ff00" fill="#00ff00" stroke-width="0.6"/>
<line x1="158.5" y1="89.5" x2="158.5" y2="93.5" stroke="#00ff00" stroke-width="1" shape-rendering="crispEdges"/>
<circle cx="234.2" cy="87.4" r="2.3" stroke="#00ff00" fill="#00ff00" stroke-width="1"/>
<path d="M234 89L233 93L232 96.5" stroke="#00ff00" fill="none" stroke-width="1.1"/>
<polygon points="236.5,90 252,90 248,85 240.5,85" stroke="#00ff00" fill="none" stroke-width="0.9"/>
<polygon points="239,89 249.5,89 248,85 240.5,85" stroke="#00ff00" fill="#00ff00" stroke-width="0.6"/>
<line x1="244.5" y1="89.5" x2="244.5" y2="93.5" stroke="#00ff00" stroke-width="1" shape-rendering="crispEdges"/>
<rect x="252.5" y="85.5" width="6" height="4" stroke="#00ff00" fill="#00ff00" stroke-width="1" shape-rendering="crispEdges"/>
<line x1="256.5" y1="89" x2="256.5" y2="92.5" stroke="#00ff00" stroke-width="1" shape-rendering="crispEdges"/>
<line x1="250" y1="90" x2="251.5" y2="92.5" stroke="#00ff00" stroke-width="1"/>
<polygon points="333.5,218.3 349,218.3 345,213.3 337.5,213.3" stroke="#00ff00" fill="none" stroke-width="0.9"/>
<polygon points="336,217.3 346.5,217.3 345,213.3 337.5,213.3" stroke="#00ff00" fill="#00ff00" stroke-width="0.6"/>
<line x1="341.5" y1="217.8" x2="341.5" y2="221.8" stroke="#00ff00" stroke-width="1" shape-rendering="crispEdges"/>
<rect x="349.8" y="213.5" width="6.5" height="2.5" stroke="#00ff00" fill="#00ff00" stroke-width="1" shape-rendering="crispEdges"/>
<line x1="353.3" y1="214.5" x2="353.3" y2="221.5" stroke="#00ff00" stroke-width="1" shape-rendering="crispEdges"/>
<rect x="378" y="213.5" width="6.5" height="2.5" stroke="#00ff00" fill="#00ff00" stroke-width="1" shape-rendering="crispEdges"/>
<line x1="381.5" y1="214.5" x2="381.5" y2="221.5" stroke="#00ff00" stroke-width="1" shape-rendering="crispEdges"/>
<rect x="386.5" y="213.5" width="8" height="8" stroke="#00ff00" fill="#0a3a2a" stroke-width="1" shape-rendering="crispEdges"/>
<rect x="388.5" y="215.5" width="4" height="4" stroke="#0c8" fill="#064" stroke-width="1" shape-rendering="crispEdges"/>
<polygon points="419.5,219 435,219 431,214 423.5,214" stroke="#00ff00" fill="none" stroke-width="0.9"/>
<polygon points="422,218 432.5,218 431,214 423.5,214" stroke="#00ff00" fill="#00ff00" stroke-width="0.6"/>
<line x1="427.5" y1="218.5" x2="427.5" y2="222.5" stroke="#00ff00" stroke-width="1" shape-rendering="crispEdges"/>
<rect x="436" y="214.3" width="6.5" height="2.5" stroke="#00ff00" fill="#00ff00" stroke-width="1" shape-rendering="crispEdges"/>
<line x1="439.5" y1="215.3" x2="439.5" y2="222.3" stroke="#00ff00" stroke-width="1" shape-rendering="crispEdges"/>
<rect x="325.5" y="92.5" width="8" height="8" stroke="#00ff00" fill="none" stroke-width="1" shape-rendering="crispEdges"/>
<rect x="327.5" y="94.5" width="5" height="4" stroke="#00ff00" fill="#00ff00" stroke-width="1" shape-rendering="crispEdges"/>
<rect x="147.5" y="254.5" width="8" height="8" stroke="#00ff00" fill="none" stroke-width="1" shape-rendering="crispEdges"/>
<rect x="149.5" y="256.5" width="5" height="4" stroke="#00ff00" fill="#00ff00" stroke-width="1" shape-rendering="crispEdges"/>
<rect x="497.5" y="222.5" width="7.5" height="8" stroke="#00ff00" fill="none" stroke-width="1" shape-rendering="crispEdges"/>
<rect x="499.5" y="224.5" width="4.5" height="4" stroke="#00ff00" fill="#00ff00" stroke-width="1" shape-rendering="crispEdges"/>
<polygon points="333,102 333,111 329.8,109 329.8,104" stroke="#00ff00" fill="#00ff00" stroke-width="0.8"/>
<line x1="330" y1="106.5" x2="325" y2="106.5" stroke="#00ff00" stroke-width="1" shape-rendering="crispEdges"/>
<polygon points="332.5,172 332.5,181 329.3,179 329.3,174" stroke="#00ff00" fill="#00ff00" stroke-width="0.8"/>
<line x1="329.5" y1="176.5" x2="324.5" y2="176.5" stroke="#00ff00" stroke-width="1" shape-rendering="crispEdges"/>
<polygon points="332.5,184.5 332.5,193.5 329.3,191.5 329.3,186.5" stroke="#00ff00" fill="#00ff00" stroke-width="0.8"/>
<line x1="329.5" y1="189" x2="324.5" y2="189" stroke="#00ff00" stroke-width="1" shape-rendering="crispEdges"/>
<polyline points="329,166.5 332,170 329,173.5" stroke="#00ff00" fill="none" stroke-width="1"/>
<polyline points="329,181 332,184 329,187" stroke="#00ff00" fill="none" stroke-width="1"/>
<polygon points="145.9,168.3 148.5,166.3 148.5,176.3 145.9,174.3" stroke="#00ff00" fill="#00ff00" stroke-width="0.8"/>
<polyline points="148.5,163.8 152,166.3 152,176.3 148.5,178.8" stroke="#00ff00" fill="none" stroke-width="0.9"/>
<line x1="148.5" y1="171.3" x2="155.7" y2="171.3" stroke="#00ff00" stroke-width="1" shape-rendering="crispEdges"/>
<rect x="148.5" y="181.5" width="4" height="11" stroke="#00ff00" fill="none" stroke-width="1" shape-rendering="crispEdges"/>
<polygon points="145.9,196.2 148.5,194.2 148.5,204.2 145.9,202.2" stroke="#00ff00" fill="#00ff00" stroke-width="0.8"/>
<polyline points="148.5,191.7 152,194.2 152,204.2 148.5,206.7" stroke="#00ff00" fill="none" stroke-width="0.9"/>
<line x1="148.5" y1="199.2" x2="153" y2="199.2" stroke="#00ff00" stroke-width="1" shape-rendering="crispEdges"/>
<polygon points="146,187 148.5,187 148.5,203 146.5,201" stroke="#00ff00" fill="#00ff00" stroke-width="0.6"/>
<rect x="148.5" y="204.5" width="2" height="14.5" stroke="#00ff00" fill="none" stroke-width="1" shape-rendering="crispEdges"/>
<polygon points="145.9,208.3 148.5,206.3 148.5,216.3 145.9,214.3" stroke="#00ff00" fill="#00ff00" stroke-width="0.8"/>
<polyline points="148.5,203.8 152,206.3 152,216.3 148.5,218.8" stroke="#00ff00" fill="none" stroke-width="0.9"/>
<line x1="148.5" y1="211.3" x2="154.7" y2="211.3" stroke="#00ff00" stroke-width="1" shape-rendering="crispEdges"/>
<circle cx="148" cy="223" r="2.7" stroke="#00ff00" fill="#00ff00" stroke-width="1"/>
<line x1="150" y1="223.2" x2="156.3" y2="225" stroke="#00ff00" stroke-width="1"/>
<circle cx="157.4" cy="225.4" r="1.1" stroke="#00ff00" fill="none" stroke-width="1"/>
<polygon points="145.9,264 148.5,262 148.5,272 145.9,270" stroke="#00ff00" fill="#00ff00" stroke-width="0.8"/>
<polyline points="148.5,259.5 152,262 152,272 148.5,274.5" stroke="#00ff00" fill="none" stroke-width="0.9"/>
<line x1="148.5" y1="267" x2="153.5" y2="267" stroke="#00ff00" stroke-width="1" shape-rendering="crispEdges"/>
<polygon points="145.9,277 148.5,275 148.5,285 145.9,283" stroke="#00ff00" fill="#00ff00" stroke-width="0.8"/>
<polyline points="148.5,272.5 152,275 152,285 148.5,287.5" stroke="#00ff00" fill="none" stroke-width="0.9"/>
<line x1="148.5" y1="280" x2="154.5" y2="280" stroke="#00ff00" stroke-width="1" shape-rendering="crispEdges"/>
<line x1="149" y1="285" x2="151.5" y2="288" stroke="#00ff00" stroke-width="1"/>
<polygon points="535.5,255.5 535.5,264.5 532.3,262.5 532.3,257.5" stroke="#00ff00" fill="#00ff00" stroke-width="0.8"/>
<line x1="532.5" y1="260" x2="527.5" y2="260" stroke="#00ff00" stroke-width="1" shape-rendering="crispEdges"/>
<polygon points="535.5,263.5 535.5,272.5 532.3,270.5 532.3,265.5" stroke="#00ff00" fill="#00ff00" stroke-width="0.8"/>
<line x1="532.5" y1="268" x2="527.5" y2="268" stroke="#00ff00" stroke-width="1" shape-rendering="crispEdges"/>
<polygon points="535.5,274.5 535.5,283.5 532.3,281.5 532.3,276.5" stroke="#00ff00" fill="#00ff00" stroke-width="0.8"/>
<line x1="532.5" y1="279" x2="527.5" y2="279" stroke="#00ff00" stroke-width="1" shape-rendering="crispEdges"/>
<line x1="534.5" y1="254" x2="534.5" y2="283" stroke="#00ff00" stroke-width="1.8" shape-rendering="crispEdges"/>
<line x1="523" y1="253.5" x2="531" y2="256" stroke="#00ff00" stroke-width="1"/>
<polygon points="501.5,214 505,214 505,220 503,220" stroke="#00ff00" fill="#00ff00" stroke-width="0.8"/>
<line x1="498" y1="217.5" x2="502" y2="217.5" stroke="#00ff00" stroke-width="1" shape-rendering="crispEdges"/>
<polygon points="242,321 249.5,321 247.5,316 244,316" stroke="#00ff00" fill="#00ff00" stroke-width="0.8"/>
<line x1="245.5" y1="313" x2="245.5" y2="316.5" stroke="#00ff00" stroke-width="1" shape-rendering="crispEdges"/>
<polygon points="249.5,315.5 265.5,315.5 261,321 254,321" stroke="#00ff00" fill="none" stroke-width="0.8"/>
<polygon points="253.5,316 261.5,316 260.5,320.5 254.5,320.5" stroke="#00ff00" fill="#00ff00" stroke-width="0.6"/>
<line x1="257.5" y1="311" x2="257.5" y2="315.5" stroke="#00ff00" stroke-width="1" shape-rendering="crispEdges"/>
<polygon points="387,321 394.5,321 392.5,316 389,316" stroke="#00ff00" fill="#00ff00" stroke-width="0.8"/>
<line x1="390.5" y1="313" x2="390.5" y2="316.5" stroke="#00ff00" stroke-width="1" shape-rendering="crispEdges"/>
<polygon points="394,315.5 410,315.5 405.5,321 398.5,321" stroke="#00ff00" fill="none" stroke-width="0.8"/>
<polygon points="398,316 406,316 405,320.5 399,320.5" stroke="#00ff00" fill="#00ff00" stroke-width="0.6"/>
<line x1="402" y1="311" x2="402" y2="315.5" stroke="#00ff00" stroke-width="1" shape-rendering="crispEdges"/>
<polygon points="455.5,315.5 471.5,315.5 467,321 460,321" stroke="#00ff00" fill="none" stroke-width="0.8"/>
<polygon points="459.5,316 467.5,316 466.5,320.5 460.5,320.5" stroke="#00ff00" fill="#00ff00" stroke-width="0.6"/>
<line x1="463.5" y1="311" x2="463.5" y2="315.5" stroke="#00ff00" stroke-width="1" shape-rendering="crispEdges"/>
<path d="M172.63 351.05V357M173.42 349.77V354.45M175.47 348.5V357M172.48 354.45H175M172.48 356.49H175.63M176.92 348.5V357M178.24 348.5V354.45M176.61 352.75H178.5M175.98 356.49H179.13M176.29 357L177.87 351.9M180.42 351.05V354.45M181.05 348.5V354.45M182.47 348.5V355.73M179.48 354.45H182.63M179.48 356.49H182M179.79 357L181.37 351.9" stroke="#ffffff" fill="none" stroke-width="1.2"/>
<text x="183" y="356.5" font-size="8" fill="#ffffff" stroke="#ffffff" stroke-width="0.35">:</text>
<text x="176" y="370.8" font-size="10.5" fill="#ffffff" textLength="6" lengthAdjust="spacingAndGlyphs" stroke="#ffffff" stroke-width="0.35">1.</text>
<path d="M184.63 362.8V368.75M185.55 362.8V368.75M183.25 363.48H187.84M184.17 367.05H187.84M183.25 368.75H186.93M183.71 371.3L186.01 366.2M188.58 362.8V370.03M190.65 364.07V368.75M188.35 363.48H192.94M188.35 370.79H192.03M193.68 362.8V370.03M195.75 365.35V371.3M197.82 365.35V368.75M193.45 365.35H197.13M193.45 370.79H198.04M199.93 364.07V368.75M202.92 365.35V370.03M198.56 365.35H203.15M199.47 368.75H203.15M199.47 370.79H203.15M205.03 362.8V370.03M206.96 364.07V371.3M203.66 365.35H208.25M204.57 367.05H207.33M203.66 370.79H207.33M208.98 362.8V370.03M211.05 362.8V370.03M212.06 362.8V371.3M208.75 363.48H212.43M208.75 367.05H212.43M209.21 371.3L211.51 366.2M215.23 362.8V371.3M217.16 365.35V371.3M218.22 362.8V370.03M214.77 365.35H218.44M214.77 368.75H218.44M219.18 365.35V371.3M220.33 362.8V368.75M223.32 365.35V371.3M219.87 365.35H223.54M218.95 368.75H223.54M219.41 371.3L221.71 366.2M224.28 364.07V368.75M225.43 365.35V370.03M224.06 367.05H227.73M224.06 368.75H228.65M229.38 362.8V370.03M233.52 362.8V368.75M229.16 363.48H232.83M229.16 365.35H232.83M229.61 371.3L231.91 366.2" stroke="#ffffff" fill="none" stroke-width="1.2"/>
<text x="234" y="370.8" font-size="10.5" fill="#ffffff" textLength="23" lengthAdjust="spacingAndGlyphs" stroke="#ffffff" stroke-width="0.35">ZRBVV</text>
<path d="M258.54 362.8V370.03M259.4 365.35V370.03M261.34 365.35V370.03M257.24 363.48H261.56M257.24 365.35H261.56M258.1 367.05H261.56M262.26 364.07V371.3M263.34 364.07V370.03M265.15 362.8V371.3M262.9 368.75H265.5M262.04 370.79H266.36M262.47 371.3L264.63 366.2M267.06 362.8V368.75M268.14 362.8V371.3M269.95 362.8V371.3M267.7 363.48H271.16M266.84 365.35H271.16M266.84 368.75H270.3M267.27 371.3L269.43 366.2M272.94 362.8V368.75M273.8 362.8V370.03M275.74 362.8V368.75M272.5 363.48H275.1M271.64 365.35H275.96M271.64 370.79H275.1M276.66 365.35V371.3M279.55 365.35V368.75M280.54 362.8V371.3M277.3 363.48H280.76M276.44 365.35H280.76M276.44 368.75H279.9M281.46 365.35V371.3M282.54 364.07V371.3M284.35 365.35V371.3M282.1 365.35H285.56M281.24 367.05H284.7M286.26 362.8V371.3M288.2 362.8V371.3M289.15 362.8V368.75M286.04 365.35H289.5M286.04 367.05H290.36M286.47 371.3L288.63 366.2M293.95 362.8V371.3M294.94 362.8V370.03M290.84 365.35H295.16M290.84 368.75H294.3M290.84 370.79H295.16M291.27 371.3L293.43 366.2M297.8 362.8V371.3M299.74 364.07V368.75M296.5 368.75H299.96M296.5 370.79H299.96M300.66 364.07V368.75M301.74 362.8V371.3M302.6 364.07V371.3M301.3 365.35H304.76M300.44 367.05H303.9M300.44 368.75H303.9" stroke="#ffffff" fill="none" stroke-width="1.2"/>
<text x="305" y="370.8" font-size="10.5" fill="#ffffff" textLength="2" lengthAdjust="spacingAndGlyphs" stroke="#ffffff" stroke-width="0.35">.</text>
<text x="176" y="386.2" font-size="10.5" fill="#ffffff" textLength="6" lengthAdjust="spacingAndGlyphs" stroke="#ffffff" stroke-width="0.35">2.</text>
<path d="M184.54 378.2V384.15M186.35 380.75V386.7M187.34 379.47V386.7M184.1 378.88H187.56M183.24 384.15H187.56M183.67 386.7L185.83 381.6M190.2 380.75V386.7M192.14 378.2V386.7M188.9 378.88H192.36M188.04 380.75H191.5M193.06 378.2V384.15M194.14 379.47V386.7M196.94 379.47V384.15M193.7 380.75H197.16M192.84 382.45H197.16M197.86 380.75V386.7M200.75 379.47V385.43M201.74 380.75V386.7M197.64 380.75H201.96M197.64 386.19H201.96M202.66 378.2V385.43M205.55 380.75V384.15M206.54 378.2V384.15M202.44 378.88H205.9M202.44 382.45H205.9M202.87 386.7L205.03 381.6M210.35 378.2V384.15M211.34 378.2V385.43M207.24 380.75H211.56M207.24 386.19H211.56M212.26 380.75V386.7M214.2 378.2V386.7M215.15 379.47V386.7M212.9 382.45H216.36M212.04 384.15H216.36M212.47 386.7L214.63 381.6M217.06 380.75V386.7M218.14 380.75V386.7M219 378.2V386.7M216.84 378.88H221.16M216.84 380.75H220.3M222.94 378.2V384.15M224.75 378.2V386.7M221.64 382.45H225.96M221.64 386.19H225.1M222.07 386.7L224.23 381.6M226.66 380.75V386.7M227.74 380.75V386.7M229.55 379.47V384.15M226.44 380.75H230.76M227.3 386.19H230.76M226.87 386.7L229.03 381.6M231.46 379.47V384.15M233.4 380.75V386.7M234.35 378.2V386.7M231.24 380.75H235.56M231.24 384.15H235.56M231.24 386.19H235.56M236.26 380.75V386.7M237.34 378.2V385.43M239.15 378.2V386.7M236.9 382.45H240.36M236.04 386.19H240.36M242.14 379.47V384.15M243 378.2V384.15M240.84 380.75H245.16M241.7 382.45H245.16M245.86 380.75V385.43M248.75 378.2V386.7M249.74 378.2V386.7M245.64 378.88H249.1M246.5 380.75H249.1M245.64 382.45H249.1M252.6 379.47V384.15M254.54 378.2V386.7M251.3 380.75H254.76M250.44 384.15H254.76M255.46 379.47V386.7M256.54 379.47V384.15M257.4 378.2V386.7M256.1 380.75H259.56M256.1 382.45H259.56M255.67 386.7L257.83 381.6M262.2 378.2V386.7M263.15 378.2V386.7M264.14 378.2V386.7M260.04 378.88H264.36M260.9 380.75H264.36M260.04 386.19H264.36M266.14 378.2V384.15M267 378.2V384.15M265.7 378.88H269.16M264.84 382.45H269.16M265.27 386.7L267.43 381.6M269.86 378.2V386.7M271.8 380.75V386.7M273.74 378.2V386.7M270.5 384.15H273.96M269.64 386.19H273.96M274.66 378.2V385.43M275.74 379.47V384.15M277.55 378.2V385.43M275.3 380.75H278.76M274.44 382.45H277.9M274.44 384.15H277.9" stroke="#ffffff" fill="none" stroke-width="1.2"/>
<text x="279" y="386.2" font-size="10.5" fill="#ffffff" textLength="2" lengthAdjust="spacingAndGlyphs" stroke="#ffffff" stroke-width="0.35">.</text>
<text x="176" y="401.5" font-size="10.5" fill="#ffffff" textLength="6" lengthAdjust="spacingAndGlyphs" stroke="#ffffff" stroke-width="0.35">3.</text>
<path d="M183.48 393.5V402M184.63 393.5V400.73M186.56 396.05V402M183.25 394.18H187.84M183.25 396.05H186.93M183.25 401.49H187.84M183.71 402L186.01 396.9M190.65 394.77V402M192.72 393.5V400.73M188.35 394.18H192.94M188.35 401.49H192.94M188.81 402L191.11 396.9M193.68 394.77V402M194.83 396.05V402M196.76 396.05V402M194.37 396.05H198.04M193.45 397.75H198.04M194.37 401.49H198.04M199.93 396.05V402M200.85 394.77V399.45M201.86 394.77V399.45M198.56 394.18H203.15M198.56 397.75H203.15M203.88 394.77V402M206.96 393.5V400.73M208.02 394.77V399.45M203.66 396.05H208.25M203.66 397.75H208.25M211.05 393.5V399.45M212.06 396.05V400.73M209.67 394.18H213.34M208.75 396.05H213.34M209.67 397.75H213.34M209.21 402L211.51 396.9M216.15 393.5V399.45M217.16 394.77V402M218.22 396.05V402M213.85 394.18H218.44M214.77 399.45H218.44M214.31 402L216.61 396.9M219.18 396.05V399.45M220.33 394.77V400.73M223.32 394.77V400.73M219.87 399.45H223.54M218.95 401.49H222.63M225.43 393.5V400.73M227.36 393.5V399.45M228.42 396.05V402M224.97 397.75H228.65M224.06 401.49H228.65M229.38 396.05V400.73M230.53 394.77V399.45M233.52 396.05V399.45M230.07 394.18H232.83M229.16 397.75H233.75" stroke="#ffffff" fill="none" stroke-width="1.2"/>
<text x="234" y="401.5" font-size="10.5" fill="#ffffff" textLength="11" lengthAdjust="spacingAndGlyphs" stroke="#ffffff" stroke-width="0.35">1.3</text>
<path d="M245.47 393.5V399.45M246.6 394.77V399.45M245.25 394.18H249.75M245.25 396.05H249.75M246.15 401.49H248.85M245.7 402L247.95 396.9" stroke="#ffffff" fill="none" stroke-width="1.2"/>
<text x="250" y="401.5" font-size="10.5" fill="#ffffff" textLength="3" lengthAdjust="spacingAndGlyphs" stroke="#ffffff" stroke-width="0.35">,</text>
<path d="M253.46 394.77V400.73M254.55 394.77V402M253.24 396.05H256.74M253.24 401.49H256.74M253.68 402L255.87 396.9M259.41 394.77V402M261.25 393.5V399.45M258.1 394.18H261.6M258.97 401.49H261.6M263.18 393.5V400.73M266.1 393.5V400.73M263.83 394.18H267.33M262.96 401.49H267.33M263.39 402L265.58 396.9M270 393.5V402M271.97 396.05V402M267.81 394.18H272.19M267.81 396.05H272.19M272.89 393.5V400.73M275.82 393.5V402M276.82 394.77V400.73M273.55 394.18H277.04M273.55 397.75H277.04M273.11 402L275.29 396.9M277.75 393.5V402M280.68 396.05V402M281.68 396.05V402M277.53 394.18H281.9M278.4 396.05H281.9M277.53 401.49H281.9M284.57 394.77V399.45M285.53 393.5V402M286.54 396.05V402M283.26 397.75H286.76M282.39 399.45H286.76M282.82 402L285.01 396.9M287.46 393.5V400.73M289.43 396.05V400.73M290.39 393.5V400.73M288.12 396.05H291.61M287.24 397.75H291.61M287.24 399.45H290.74M287.68 402L289.87 396.9M293.41 393.5V399.45M294.29 393.5V400.73M295.25 393.5V400.73M292.1 396.05H296.47M292.1 401.49H295.6M298.27 393.5V402M300.1 394.77V400.73M301.11 393.5V399.45M296.96 396.05H301.33M297.83 401.49H301.33M297.39 402L299.58 396.9M303.13 396.05V400.73M304 393.5V399.45M304.96 393.5V402M302.69 394.18H306.19M302.69 401.49H306.19M302.25 402L304.44 396.9M307.98 394.77V402M310.82 396.05V402M306.67 396.05H310.17M306.67 399.45H311.04M307.55 401.49H311.04M311.75 394.77V402M312.84 393.5V400.73M313.71 393.5V399.45M311.53 397.75H315.03M312.4 399.45H315.9M316.6 394.77V399.45M318.57 393.5V399.45M319.53 393.5V399.45M316.39 394.18H320.76M316.39 396.05H319.88" stroke="#ffffff" fill="none" stroke-width="1.2"/>
<text x="321" y="401.5" font-size="10.5" fill="#ffffff" textLength="12" lengthAdjust="spacingAndGlyphs" stroke="#ffffff" stroke-width="0.35">2.5</text>
<path d="M333.48 393.5V402M336.49 396.05V402M334.15 396.05H337.75M334.15 399.45H337.75" stroke="#ffffff" fill="none" stroke-width="1.2"/>
<text x="338" y="401.5" font-size="10.5" fill="#ffffff" textLength="3" lengthAdjust="spacingAndGlyphs" stroke="#ffffff" stroke-width="0.35">,</text>
<path d="M342.51 396.05V400.73M343.36 396.05V400.73M345.27 393.5V402M342.08 394.18H344.63M341.24 397.75H345.48M342.08 401.49H345.48M341.66 402L343.78 396.9M347.22 393.5V399.45M348.07 396.05V402M349 394.77V402M345.95 399.45H349.34M346.8 401.49H349.34M350.88 393.5V399.45M353.72 393.5V399.45M350.66 394.18H354.06M350.66 397.75H354.06M351.09 402L353.21 396.9M355.59 394.77V400.73M356.65 396.05V402M358.43 393.5V400.73M356.23 396.05H359.62M355.38 399.45H358.77M355.8 402L357.92 396.9M361.37 394.77V400.73M363.15 393.5V402M360.94 396.05H364.34M360.94 399.45H364.34M360.09 401.49H363.49M367.86 393.5V402M368.84 394.77V402M364.81 396.05H369.05M364.81 399.45H369.05M365.23 402L367.35 396.9M371.64 393.5V402M372.58 394.77V399.45M369.52 397.75H373.76M370.37 401.49H373.76M369.95 402L372.07 396.9M374.45 394.77V400.73M376.36 393.5V399.45M377.29 396.05V399.45M374.24 397.75H378.48M374.24 401.49H377.63M374.66 402L376.78 396.9M380.22 393.5V402M381.07 393.5V402M378.95 396.05H383.19M379.8 397.75H382.34M383.88 394.77V400.73M384.94 396.05V402M383.66 394.18H387.91M384.51 397.75H387.91M383.66 401.49H387.91M384.09 402L386.21 396.9M388.59 393.5V399.45M391.43 396.05V399.45M392.41 393.5V400.73M389.23 394.18H392.62M388.38 399.45H392.62M388.38 401.49H391.77M393.31 393.5V402M394.37 394.77V402M396.15 393.5V399.45M393.94 394.18H397.34M393.94 397.75H396.49M393.52 402L395.64 396.9M398.02 393.5V402M400.86 396.05V400.73M401.84 393.5V399.45M397.81 396.05H401.2M397.81 397.75H401.2M397.81 399.45H402.05M403.79 393.5V402M405.58 394.77V400.73M402.52 396.05H405.92M403.37 399.45H406.76M402.52 401.49H406.76" stroke="#ffffff" fill="none" stroke-width="1.2"/>
<path d="M191.47 408V413.95M192.6 408V416.5M192.15 412.25H195.75M191.25 413.95H194.85M191.25 415.99H194.85M191.7 416.5L193.95 411.4" stroke="#ffffff" fill="none" stroke-width="1.2"/>
<text x="197" y="416" font-size="10.5" fill="#ffffff" textLength="10" lengthAdjust="spacingAndGlyphs" stroke="#ffffff" stroke-width="0.35">3.2</text>
<path d="M208.47 408V416.5M209.6 408V415.23M212.53 408V416.5M209.15 408.68H212.75M208.25 412.25H211.85M209.15 413.95H211.85M208.7 416.5L210.95 411.4" stroke="#ffffff" fill="none" stroke-width="1.2"/>
<text x="176" y="432" font-size="10.5" fill="#ffffff" textLength="6" lengthAdjust="spacingAndGlyphs" stroke="#ffffff" stroke-width="0.35">4.</text>
<path d="M183.51 426.55V432.5M187.83 426.55V432.5M184.23 424.68H187.11M183.27 428.25H188.07M184.23 431.99H188.07M188.84 424V431.23M192.06 424V429.95M193.16 424V432.5M189.56 424.68H192.44M188.6 431.99H193.4M189.08 432.5L191.48 427.4M195.37 424V432.5M197.39 424V431.23M194.89 428.25H197.77M193.93 431.99H198.73M194.41 432.5L196.81 427.4M201.67 426.55V432.5M202.72 425.27V432.5M203.83 425.27V431.23M199.27 424.68H204.07M199.27 428.25H204.07M200.23 431.99H204.07M199.75 432.5L202.15 427.4M204.84 424V429.95M208.06 424V432.5M205.56 426.55H209.4M205.56 431.99H208.44M205.08 432.5L207.48 427.4M212.33 425.27V429.95M213.39 424V432.5M214.49 425.27V432.5M209.93 429.95H214.73M209.93 431.99H214.73M218.72 426.55V432.5M219.83 426.55V429.95M215.27 424.68H220.07M216.23 431.99H220.07M215.75 432.5L218.15 427.4M220.84 424V431.23M224.06 426.55V431.23M225.16 426.55V429.95M220.6 424.68H224.44M220.6 428.25H225.4M221.08 432.5L223.48 427.4M226.17 424V432.5M228.33 425.27V429.95M229.39 425.27V432.5M226.89 428.25H229.77M226.89 429.95H230.73M226.89 431.99H230.73M232.71 424V431.23M233.67 425.27V432.5M234.72 424V432.5M232.23 428.25H235.11M231.27 431.99H236.07M239 424V431.23M240.06 425.27V429.95M236.6 424.68H241.4M236.6 426.55H241.4M236.6 428.25H240.44M237.08 432.5L239.48 427.4M242.17 424V432.5M244.33 425.27V431.23M245.39 425.27V431.23M242.89 424.68H246.73M241.93 426.55H245.77M242.41 432.5L244.81 427.4" stroke="#ffffff" fill="none" stroke-width="1.2"/>
<text x="247" y="432" font-size="10.5" fill="#ffffff" textLength="3" lengthAdjust="spacingAndGlyphs" stroke="#ffffff" stroke-width="0.35">,</text>
<path d="M252.81 424V429.95M253.93 425.27V432.5M255.09 425.27V431.23M250.28 424.68H255.34M251.29 426.55H255.34M250.28 428.25H255.34M250.79 432.5L253.32 427.4M258.44 424V432.5M259.55 424V432.5M260.72 424V432.5M256.92 424.68H260.97M255.91 428.25H260.97M256.41 432.5L258.94 427.4M261.78 424V432.5M264.06 425.27V431.23M262.54 424.68H265.58M261.53 426.55H266.59M261.53 429.95H266.59M268.68 426.55V431.23M269.69 426.55V432.5M271.97 424V431.23M268.17 424.68H271.21M268.17 426.55H272.22M267.16 428.25H272.22M267.66 432.5L270.19 427.4M273.03 425.27V429.95M274.3 425.27V432.5M277.59 425.27V432.5M272.78 428.25H277.84M273.79 429.95H277.84M273.79 431.99H276.83M279.93 425.27V432.5M280.94 425.27V432.5M283.22 426.55V432.5M278.41 426.55H283.47M278.41 428.25H283.47M279.42 431.99H283.47M278.91 432.5L281.44 427.4M285.55 424V431.23M288.84 425.27V432.5M284.03 424.68H288.08M284.03 426.55H289.09M291.18 426.55V432.5M292.19 425.27V432.5M294.47 424V432.5M289.66 428.25H294.72M290.67 429.95H294.72M290.16 432.5L292.69 427.4" stroke="#ffffff" fill="none" stroke-width="1.2"/>
<text x="295" y="432" font-size="10.5" fill="#ffffff" textLength="11" lengthAdjust="spacingAndGlyphs" stroke="#ffffff" stroke-width="0.35">3.0</text>
<path d="M306.48 424V431.23M307.6 426.55V432.5M310.52 424V431.23M307.15 428.25H310.75M306.25 429.95H310.75M306.7 432.5L308.95 427.4" stroke="#ffffff" fill="none" stroke-width="1.2"/>
<text x="311" y="432" font-size="10.5" fill="#ffffff" textLength="2" lengthAdjust="spacingAndGlyphs" stroke="#ffffff" stroke-width="0.35">.</text>
<text x="176" y="447" font-size="10.5" fill="#ffffff" textLength="6" lengthAdjust="spacingAndGlyphs" stroke="#ffffff" stroke-width="0.35">5.</text>
<path d="M184.6 440.27V447.5M186.49 440.27V446.23M183.25 439.68H187.75M183.25 443.25H187.75M189.6 439V447.5M191.49 440.27V447.5M188.25 441.55H192.75M189.15 444.95H192.75M193.47 439V446.23M194.6 439V447.5M196.49 441.55V444.95M194.15 443.25H196.85M194.15 444.95H197.75M198.47 439V447.5M199.6 439V447.5M202.53 441.55V447.5M198.25 439.68H202.75M198.25 441.55H202.75M198.25 446.99H201.85M198.7 447.5L200.95 442.4M204.6 439V446.23M205.5 441.55V447.5M207.53 440.27V447.5M204.15 439.68H207.75M203.25 443.25H207.75M203.7 447.5L205.95 442.4M208.47 440.27V446.23M209.6 439V446.23M212.53 439V444.95M208.25 443.25H211.85M209.15 444.95H212.75M208.25 446.99H212.75M208.7 447.5L210.95 442.4M214.6 441.55V444.95M216.49 439V447.5M217.53 439V446.23M213.25 439.68H216.85M213.25 444.95H217.75M214.15 446.99H217.75M220.5 441.55V446.23M221.49 441.55V447.5M222.53 441.55V444.95M219.15 439.68H221.85M218.25 443.25H222.75M219.15 444.95H222.75M218.7 447.5L220.95 442.4M225.5 439V447.5M227.53 440.27V446.23M224.15 443.25H227.75M223.25 444.95H227.75M229.6 439V446.23M230.5 439V447.5M229.15 441.55H231.85M228.25 444.95H232.75M228.7 447.5L230.95 442.4M233.47 440.27V444.95M236.49 439V446.23M237.53 440.27V446.23M233.25 439.68H237.75M233.25 443.25H236.85M233.7 447.5L235.95 442.4M239.6 439V447.5M241.49 439V446.23M239.15 441.55H242.75M239.15 446.99H242.75M243.47 440.27V447.5M244.6 439V446.23M247.53 440.27V446.23M243.25 441.55H247.75M244.15 443.25H246.85M243.7 447.5L245.95 442.4M249.6 440.27V446.23M251.49 439V444.95M252.53 441.55V446.23M248.25 443.25H251.85M249.15 444.95H252.75M248.7 447.5L250.95 442.4M254.6 439V446.23M255.5 439V447.5M257.52 440.27V447.5M253.25 444.95H256.85M253.25 446.99H257.75M258.48 441.55V444.95M262.52 441.55V444.95M258.25 439.68H262.75M258.25 441.55H262.75M264.6 439V446.23M266.49 440.27V444.95M267.52 441.55V447.5M264.15 439.68H267.75M263.25 441.55H267.75M263.7 447.5L265.95 442.4M268.48 439V446.23M271.49 441.55V447.5M272.52 441.55V447.5M268.25 439.68H272.75M268.25 441.55H271.85" stroke="#ffffff" fill="none" stroke-width="1.2"/>
<text x="273" y="447" font-size="10.5" fill="#ffffff" textLength="2" lengthAdjust="spacingAndGlyphs" stroke="#ffffff" stroke-width="0.35">.</text>
<text x="176" y="462" font-size="10.5" fill="#ffffff" textLength="6" lengthAdjust="spacingAndGlyphs" stroke="#ffffff" stroke-width="0.35">6.</text>
<path d="M185.5 455.27V462.5M186.49 455.27V459.95M187.53 455.27V461.23M183.25 458.25H187.75M183.25 459.95H187.75M183.25 461.99H187.75M188.47 454V462.5M189.6 455.27V459.95M190.5 456.55V462.5M188.25 456.55H191.85M189.15 458.25H191.85M188.7 462.5L190.95 457.4M193.47 455.27V462.5M194.6 455.27V462.5M197.53 456.55V461.23M193.25 456.55H196.85M193.25 459.95H197.75M199.6 454V462.5M200.5 454V462.5M201.49 456.55V462.5M198.25 456.55H202.75M199.15 461.99H201.85M203.47 454V462.5M204.6 456.55V462.5M207.53 454V462.5M204.15 456.55H207.75M204.15 459.95H207.75M208.47 454V459.95M209.6 455.27V462.5M212.53 455.27V462.5M209.15 458.25H212.75M208.25 461.99H211.85M213.47 454V461.23M214.6 454V462.5M215.5 454V459.95M213.25 456.55H216.85M213.25 459.95H217.75M213.7 462.5L215.95 457.4M218.47 454V461.23M219.6 456.55V461.23M220.5 454V459.95M218.25 456.55H222.75M219.15 459.95H221.85" stroke="#ffffff" fill="none" stroke-width="1.2"/>
<text x="223" y="462" font-size="10.5" fill="#ffffff" textLength="3" lengthAdjust="spacingAndGlyphs" stroke="#ffffff" stroke-width="0.35">,</text>
<path d="M227.61 455.27V462.5M229.51 455.27V462.5M230.55 454V462.5M227.16 456.55H230.78M226.25 461.99H230.78M226.7 462.5L228.97 457.4M232.64 455.27V462.5M234.54 454V461.23M235.58 454V459.95M231.28 454.68H234.9M231.28 461.99H235.8M231.73 462.5L233.99 457.4M236.53 454V459.95M237.66 455.27V462.5M240.61 455.27V462.5M236.31 454.68H240.83M237.21 456.55H240.83M236.76 462.5L239.02 457.4M241.56 454V462.5M244.59 456.55V461.23M245.63 454V461.23M242.24 456.55H244.95M241.33 461.99H244.95M241.79 462.5L244.05 457.4M248.62 454V462.5M249.62 454V462.5M250.66 454V462.5M247.27 454.68H249.98M246.36 459.95H249.98M252.75 454V459.95M254.65 456.55V462.5M255.69 455.27V462.5M251.39 456.55H255.92M252.3 461.99H255.01M256.64 455.27V462.5M257.78 454V462.5M258.68 454V461.23M257.32 454.68H260.94M256.42 459.95H260.94M261.67 454V462.5M264.7 454V462.5M265.74 455.27V462.5M262.35 456.55H265.97M262.35 461.99H265.97M266.7 455.27V462.5M268.74 454V462.5M269.73 454V461.23M267.38 454.68H271M266.47 458.25H270.09M272.86 455.27V462.5M273.76 456.55V462.5M274.76 456.55V459.95M272.41 458.25H275.12M272.41 459.95H275.12M271.5 461.99H276.03M276.76 456.55V462.5M277.89 456.55V462.5M280.83 456.55V459.95M276.53 456.55H281.05M277.43 458.25H280.15M276.53 459.95H280.15M281.78 456.55V462.5M282.91 454V459.95M283.82 456.55V459.95M281.56 454.68H285.18M281.56 458.25H286.08M281.56 459.95H286.08M286.81 455.27V462.5M288.85 455.27V462.5M287.49 458.25H291.11M286.58 459.95H291.11M287.49 461.99H290.2M287.04 462.5L289.3 457.4M292.97 454V461.23M293.87 454V462.5M294.87 455.27V459.95M292.52 458.25H295.23M291.61 459.95H296.14M292.06 462.5L294.33 457.4M296.87 454V459.95M298 455.27V461.23M300.94 454V459.95M296.64 458.25H300.26M297.55 459.95H301.17M297.09 462.5L299.36 457.4M303.93 456.55V462.5M304.93 456.55V459.95M305.97 455.27V462.5M301.67 454.68H306.19M302.57 459.95H306.19M306.92 455.27V459.95M309.95 454V462.5M307.6 456.55H310.32M307.6 461.99H311.22M313.99 454V461.23M314.98 454V459.95M316.02 456.55V462.5M311.72 458.25H315.34M311.72 459.95H316.25M311.72 461.99H315.34M312.18 462.5L314.44 457.4" stroke="#ffffff" fill="none" stroke-width="1.2"/>
<text x="316.5" y="462" font-size="10.5" fill="#ffffff" textLength="2" lengthAdjust="spacingAndGlyphs" stroke="#ffffff" stroke-width="0.35">.</text>
<rect x="529.5" y="412.5" width="50" height="80" stroke="#ffffff" fill="none" stroke-width="1" shape-rendering="crispEdges"/>
<path d="M532.4 392.5V400.5M534.08 392.5V399.3M535.77 392.5V399.3M532.21 396.5H535.96M532.96 400.02H535.96M532.58 400.5L534.46 395.7M537.5 394.9V400.5M538.25 393.7V399.3M539.94 394.9V399.3M536.38 396.5H540.12M537.12 398.1H540.12M540.73 392.5V399.3M541.67 394.9V398.1M542.42 392.5V399.3M541.29 396.5H544.29M541.29 398.1H544.29M540.92 400.5L542.79 395.7M544.9 393.7V399.3M545.83 392.5V400.5M546.58 392.5V398.1M545.46 393.14H548.46M545.46 396.5H547.71M545.46 400.02H547.71M545.08 400.5L546.96 395.7M550 394.9V398.1M550.75 393.7V399.3M551.58 392.5V400.5M548.88 396.5H552.62M548.88 398.1H552.62M549.62 400.02H552.62M553.23 392.5V398.1M554.92 394.9V400.5M556.6 393.7V400.5M553.79 394.9H556.79M553.04 400.02H556.79M559.08 392.5V398.1M559.91 393.7V400.5M557.21 396.5H560.96M557.21 398.1H560.96M557.21 400.02H560.21M561.56 392.5V400.5M563.25 393.7V400.5M564.94 392.5V398.1M562.12 394.9H565.12M561.38 398.1H564.38M562.12 400.02H564.38M565.73 394.9V400.5M568.24 393.7V399.3M569.1 393.7V400.5M565.54 394.9H568.54M566.29 400.02H568.54M565.92 400.5L567.79 395.7" stroke="#ffffff" fill="none" stroke-width="1.2"/>
<text x="525.5" y="410.2" font-size="10" fill="#ffffff" textLength="76" lengthAdjust="spacingAndGlyphs" stroke="#ffffff" stroke-width="0.35">ATNSX100NA PTM0100A</text>
<path d="M463.41 434.9V440M464.39 434.9V440M465.17 434V438.2M463.22 438.2H466.34M463.22 439.64H467.12M467.74 435.8V440M469.5 435.8V438.2M471.25 435.8V440M467.55 435.8H471.45M467.55 439.64H471.45M472.08 434V440M473.05 434.9V440M475.59 434.9V440M471.88 434.48H475.78M471.88 438.2H475.78M472.66 439.64H475" stroke="#ffffff" fill="none" stroke-width="1.2"/>
<path d="M465.17 465V470.1M466.92 465.9V470.1M464 465.48H467.12M463.22 466.8H467.12M467.74 465V470.1M469.5 466.8V469.2M471.25 465V470.1M467.55 466.8H470.67M468.33 469.2H471.45M473.83 465V471M474.69 465.9V469.2M475.59 466.8V471M471.88 466.8H475.78M471.88 470.64H475" stroke="#ffffff" fill="none" stroke-width="1.2"/>
<line x1="481" y1="437.5" x2="545" y2="437.5" stroke="#ffffff" stroke-width="1" shape-rendering="crispEdges"/>
<line x1="481" y1="468.5" x2="545" y2="468.5" stroke="#ffffff" stroke-width="1" shape-rendering="crispEdges"/>
<text x="489" y="435" font-size="5.5" fill="#ffffff" textLength="33" lengthAdjust="spacingAndGlyphs" stroke="#ffffff" stroke-width="0.35">YJV-4x70+1x35</text>
<text x="489" y="466" font-size="5.5" fill="#ffffff" textLength="33" lengthAdjust="spacingAndGlyphs" stroke="#ffffff" stroke-width="0.35">YJV-4x70+1x35</text>
<line x1="544.5" y1="443" x2="556.5" y2="438" stroke="#ffffff" stroke-width="1"/>
<line x1="556" y1="437.5" x2="565" y2="437.5" stroke="#ffffff" stroke-width="1" shape-rendering="crispEdges"/>
<line x1="544.5" y1="474" x2="556.5" y2="469" stroke="#ffffff" stroke-width="1"/>
<line x1="556" y1="468.5" x2="565" y2="468.5" stroke="#ffffff" stroke-width="1" shape-rendering="crispEdges"/>
<line x1="543.5" y1="436" x2="546" y2="439" stroke="#ffffff" stroke-width="1"/>
<line x1="543.5" y1="467" x2="546" y2="470" stroke="#ffffff" stroke-width="1"/>
<line x1="564.5" y1="437" x2="564.5" y2="469" stroke="#ffffff" stroke-width="1" shape-rendering="crispEdges"/>
<line x1="564" y1="452.5" x2="597" y2="452.5" stroke="#ffffff" stroke-width="1" shape-rendering="crispEdges"/>
<line x1="597" y1="452.5" x2="608" y2="452.5" stroke="#00ff00" stroke-width="1" shape-rendering="crispEdges"/>
<line x1="604.5" y1="450.5" x2="608.5" y2="454.5" stroke="#00ff00" stroke-width="1"/>
<line x1="604.5" y1="454.5" x2="608.5" y2="450.5" stroke="#00ff00" stroke-width="1"/>
<line x1="605.5" y1="462" x2="625" y2="453" stroke="#00ff00" stroke-width="1"/>
<line x1="624.5" y1="452.5" x2="636" y2="452.5" stroke="#00ff00" stroke-width="1" shape-rendering="crispEdges"/>
<circle cx="613.5" cy="458.5" r="2" stroke="#00ff00" fill="none" stroke-width="1"/>
<line x1="636" y1="452.5" x2="673" y2="452.5" stroke="#00ffff" stroke-width="1" shape-rendering="crispEdges"/>
<text x="586" y="444" font-size="10.5" fill="#ffffff" textLength="65" lengthAdjust="spacingAndGlyphs" stroke="#ffffff" stroke-width="0.35">C65N C40A/4P+VE</text>
<line x1="672.5" y1="390" x2="672.5" y2="546" stroke="#00ffff" stroke-width="1" shape-rendering="crispEdges"/>
<line x1="672" y1="390.5" x2="714" y2="390.5" stroke="#00ffff" stroke-width="1" shape-rendering="crispEdges"/>
<line x1="714" y1="390.5" x2="724" y2="390.5" stroke="#00ff00" stroke-width="1" shape-rendering="crispEdges"/>
<line x1="720.5" y1="388.5" x2="724.5" y2="392.5" stroke="#00ff00" stroke-width="1"/>
<line x1="720.5" y1="392.5" x2="724.5" y2="388.5" stroke="#00ff00" stroke-width="1"/>
<line x1="721.5" y1="399.5" x2="742.5" y2="390.5" stroke="#00ff00" stroke-width="1"/>
<line x1="742" y1="390.5" x2="752" y2="390.5" stroke="#00ff00" stroke-width="1" shape-rendering="crispEdges"/>
<line x1="752" y1="390.5" x2="865" y2="390.5" stroke="#00ffff" stroke-width="1" shape-rendering="crispEdges"/>
<text x="678.8" y="386.3" font-size="11.2" fill="#ffffff" textLength="19.5" lengthAdjust="spacingAndGlyphs" stroke="#ffffff" stroke-width="0.35">L1~L3</text>
<text x="717" y="385.3" font-size="10.8" fill="#ffffff" textLength="50.3" lengthAdjust="spacingAndGlyphs" stroke="#ffffff" stroke-width="0.35">C65N D25A/4P</text>
<text x="784" y="389.2" font-size="11" fill="#ffffff" textLength="74.5" lengthAdjust="spacingAndGlyphs" stroke="#ffffff" stroke-width="0.35">ZRBW-5(1x4) PR WS</text>
<path d="M873.95 389V396M876.78 386V396M877.75 387.5V394.5M874.58 389H877.97M873.74 393H877.97M873.74 395.4H877.97M874.16 396L876.27 390M878.65 389V393M879.7 389V396M882.45 386V393M879.28 389H881.82M878.44 393H881.82M883.35 389V393M884.4 386V396M883.98 386.8H886.52M883.13 393H886.52M888.05 386V396M889.1 386V396M887.84 386.8H892.07M888.68 393H892.07M895.58 387.5V396M896.55 386V393M893.38 386.8H896.76M892.53 393H896.76" stroke="#ffffff" fill="none" stroke-width="1.2"/>
<line x1="672" y1="421.5" x2="714" y2="421.5" stroke="#00ffff" stroke-width="1" shape-rendering="crispEdges"/>
<line x1="714" y1="421.5" x2="724" y2="421.5" stroke="#00ff00" stroke-width="1" shape-rendering="crispEdges"/>
<line x1="720.5" y1="419.5" x2="724.5" y2="423.5" stroke="#00ff00" stroke-width="1"/>
<line x1="720.5" y1="423.5" x2="724.5" y2="419.5" stroke="#00ff00" stroke-width="1"/>
<line x1="721.5" y1="430.5" x2="742.5" y2="421.5" stroke="#00ff00" stroke-width="1"/>
<line x1="742" y1="421.5" x2="752" y2="421.5" stroke="#00ff00" stroke-width="1" shape-rendering="crispEdges"/>
<line x1="752" y1="421.5" x2="865" y2="421.5" stroke="#00ffff" stroke-width="1" shape-rendering="crispEdges"/>
<text x="678.8" y="417.3" font-size="11.2" fill="#ffffff" textLength="19.5" lengthAdjust="spacingAndGlyphs" stroke="#ffffff" stroke-width="0.35">L1~L3</text>
<text x="717" y="416.3" font-size="10.8" fill="#ffffff" textLength="50.3" lengthAdjust="spacingAndGlyphs" stroke="#ffffff" stroke-width="0.35">C65N D25A/4P</text>
<text x="784" y="420.2" font-size="11" fill="#ffffff" textLength="74.5" lengthAdjust="spacingAndGlyphs" stroke="#ffffff" stroke-width="0.35">ZRBW-5(1x4) PR WS</text>
<path d="M873.95 420V427M875.85 417V427M877.75 417V427M873.74 417.8H877.12M873.74 420H877.12M874.58 422H877.97M874.16 427L876.27 421M879.7 417V427M881.48 420V427M878.44 417.8H882.67M879.28 422H882.67M878.44 424H882.67M878.86 427L880.97 421M883.35 420V425.5M885.25 417V427M887.15 417V427M883.98 417.8H887.37M883.13 420H887.37M888.05 417V427M889.1 417V427M888.68 417.8H892.07M887.84 420H892.07M892.75 418.5V424M894.65 417V427M896.55 420V427M892.53 420H896.76M892.53 422H895.92M892.53 424H896.76M892.96 427L895.07 421" stroke="#ffffff" fill="none" stroke-width="1.2"/>
<line x1="672" y1="452.5" x2="714" y2="452.5" stroke="#00ffff" stroke-width="1" shape-rendering="crispEdges"/>
<line x1="714" y1="452.5" x2="724" y2="452.5" stroke="#00ff00" stroke-width="1" shape-rendering="crispEdges"/>
<line x1="720.5" y1="450.5" x2="724.5" y2="454.5" stroke="#00ff00" stroke-width="1"/>
<line x1="720.5" y1="454.5" x2="724.5" y2="450.5" stroke="#00ff00" stroke-width="1"/>
<line x1="721.5" y1="461.5" x2="742.5" y2="452.5" stroke="#00ff00" stroke-width="1"/>
<line x1="742" y1="452.5" x2="752" y2="452.5" stroke="#00ff00" stroke-width="1" shape-rendering="crispEdges"/>
<line x1="752" y1="452.5" x2="865" y2="452.5" stroke="#00ffff" stroke-width="1" shape-rendering="crispEdges"/>
<text x="678.8" y="448.3" font-size="11.2" fill="#ffffff" textLength="19.5" lengthAdjust="spacingAndGlyphs" stroke="#ffffff" stroke-width="0.35">L1~L3</text>
<text x="717" y="447.3" font-size="10.8" fill="#ffffff" textLength="50.3" lengthAdjust="spacingAndGlyphs" stroke="#ffffff" stroke-width="0.35">C65N D25A/4P</text>
<text x="784" y="451.2" font-size="11" fill="#ffffff" textLength="74.5" lengthAdjust="spacingAndGlyphs" stroke="#ffffff" stroke-width="0.35">ZRBW-5(1x4) PR WS</text>
<path d="M873.96 449.5V458M875.92 448V458M876.87 448V456.5M873.74 453H877.22M873.74 457.4H878.09M874.18 458L876.35 452M878.79 451V458M879.88 448V458M878.58 448.8H882.06M878.58 453H882.93M884.71 451V458M885.58 449.5V456.5M884.28 448.8H887.76M884.28 451H886.89M888.46 448V455M889.55 449.5V458M888.24 448.8H892.59M888.24 457.4H892.59M895.25 451V458M896.21 448V456.5M893.95 455H896.56M893.08 457.4H897.43M899.21 448V458M900.08 451V458M901.04 448V458M898.78 453H902.26M897.91 457.4H902.26" stroke="#ffffff" fill="none" stroke-width="1.2"/>
<line x1="672" y1="483.5" x2="714" y2="483.5" stroke="#00ffff" stroke-width="1" shape-rendering="crispEdges"/>
<line x1="714" y1="483.5" x2="724" y2="483.5" stroke="#00ff00" stroke-width="1" shape-rendering="crispEdges"/>
<line x1="720.5" y1="481.5" x2="724.5" y2="485.5" stroke="#00ff00" stroke-width="1"/>
<line x1="720.5" y1="485.5" x2="724.5" y2="481.5" stroke="#00ff00" stroke-width="1"/>
<line x1="721.5" y1="492.5" x2="742.5" y2="483.5" stroke="#00ff00" stroke-width="1"/>
<line x1="742" y1="483.5" x2="752" y2="483.5" stroke="#00ff00" stroke-width="1" shape-rendering="crispEdges"/>
<line x1="752" y1="483.5" x2="865" y2="483.5" stroke="#00ffff" stroke-width="1" shape-rendering="crispEdges"/>
<text x="678.8" y="479.3" font-size="11.2" fill="#ffffff" textLength="6" lengthAdjust="spacingAndGlyphs" stroke="#ffffff" stroke-width="0.35">L1</text>
<text x="717" y="478.3" font-size="10.8" fill="#ffffff" textLength="50.3" lengthAdjust="spacingAndGlyphs" stroke="#ffffff" stroke-width="0.35">C65N C16A/2P</text>
<text x="784" y="482.2" font-size="11" fill="#ffffff" textLength="81" lengthAdjust="spacingAndGlyphs" stroke="#ffffff" stroke-width="0.35">ZRBW-3(1x2.5) PR WS</text>
<path d="M875.75 480.5V489M876.64 479V489M877.57 482V489M874.53 484H877.77M874.53 486H876.97M874.13 489L876.15 483M878.43 479V487.5M879.44 480.5V489M880.25 479V487.5M878.23 482H881.47M879.03 484H882.27M878.23 488.4H882.27M878.63 489L880.65 483" stroke="#ffffff" fill="none" stroke-width="1.2"/>
<line x1="672" y1="514.5" x2="714" y2="514.5" stroke="#00ffff" stroke-width="1" shape-rendering="crispEdges"/>
<line x1="714" y1="514.5" x2="724" y2="514.5" stroke="#00ff00" stroke-width="1" shape-rendering="crispEdges"/>
<line x1="720.5" y1="512.5" x2="724.5" y2="516.5" stroke="#00ff00" stroke-width="1"/>
<line x1="720.5" y1="516.5" x2="724.5" y2="512.5" stroke="#00ff00" stroke-width="1"/>
<line x1="721.5" y1="523.5" x2="742.5" y2="514.5" stroke="#00ff00" stroke-width="1"/>
<line x1="742" y1="514.5" x2="752" y2="514.5" stroke="#00ff00" stroke-width="1" shape-rendering="crispEdges"/>
<line x1="752" y1="514.5" x2="865" y2="514.5" stroke="#00ffff" stroke-width="1" shape-rendering="crispEdges"/>
<text x="678.8" y="510.3" font-size="11.2" fill="#ffffff" textLength="7" lengthAdjust="spacingAndGlyphs" stroke="#ffffff" stroke-width="0.35">L2</text>
<text x="717" y="509.3" font-size="10.8" fill="#ffffff" textLength="50.3" lengthAdjust="spacingAndGlyphs" stroke="#ffffff" stroke-width="0.35">C65N C20A/2P</text>
<text x="784" y="513.2" font-size="11" fill="#ffffff" textLength="81" lengthAdjust="spacingAndGlyphs" stroke="#ffffff" stroke-width="0.35">ZRBW-3(1x2.5) PR WS</text>
<path d="M873.9 510V520M874.86 513V518.5M875.62 510V517M873.71 510.8H876.77M873.71 519.4H877.54M874.1 520L876.01 514M879.11 510V520M880.72 513V517M881.6 510V517M877.96 517H881.79M877.96 519.4H881.79M878.35 520L880.26 514" stroke="#ffffff" fill="none" stroke-width="1.2"/>
<line x1="672" y1="545.5" x2="714" y2="545.5" stroke="#00ffff" stroke-width="1" shape-rendering="crispEdges"/>
<line x1="714" y1="545.5" x2="724" y2="545.5" stroke="#00ff00" stroke-width="1" shape-rendering="crispEdges"/>
<line x1="720.5" y1="543.5" x2="724.5" y2="547.5" stroke="#00ff00" stroke-width="1"/>
<line x1="720.5" y1="547.5" x2="724.5" y2="543.5" stroke="#00ff00" stroke-width="1"/>
<line x1="721.5" y1="554.5" x2="742.5" y2="545.5" stroke="#00ff00" stroke-width="1"/>
<line x1="742" y1="545.5" x2="752" y2="545.5" stroke="#00ff00" stroke-width="1" shape-rendering="crispEdges"/>
<line x1="752" y1="545.5" x2="865" y2="545.5" stroke="#00ffff" stroke-width="1" shape-rendering="crispEdges"/>
<text x="678.8" y="541.3" font-size="11.2" fill="#ffffff" textLength="7" lengthAdjust="spacingAndGlyphs" stroke="#ffffff" stroke-width="0.35">L3</text>
<text x="717" y="540.3" font-size="10.8" fill="#ffffff" textLength="50.3" lengthAdjust="spacingAndGlyphs" stroke="#ffffff" stroke-width="0.35">C65N C16A/2P</text>
<text x="784" y="544.2" font-size="11" fill="#ffffff" textLength="81" lengthAdjust="spacingAndGlyphs" stroke="#ffffff" stroke-width="0.35">ZRBW-3(1x2.5) PR WS</text>
<path d="M872.47 544V548M873.57 541V549.5M874.45 541V551M872.25 544H875.77M873.13 546H876.65M872.25 548H876.65M877.37 541V549.5M878.47 541V551M877.14 546H881.55M878.03 548H881.55M877.59 551L879.79 545M882.27 542.5V549.5M884.25 541V551M885.22 544V548M882.93 541.8H885.57M882.93 544H886.45M887.17 544V551M888.27 542.5V551M886.95 541.8H890.47M887.83 546H891.36M894.05 541V548M895.02 541V551M896.03 542.5V548M892.73 544H896.25M892.73 546H896.25" stroke="#ffffff" fill="none" stroke-width="1.2"/>
<text x="743.5" y="567" font-size="8" fill="#ffffff" textLength="7" lengthAdjust="spacingAndGlyphs" stroke="#ffffff" stroke-width="0.35">XM</text>
<path d="M751.51 560.27V564.95M752.71 559V567.5M755.83 561.55V566.23M751.27 561.55H756.07M751.27 563.25H756.07M751.27 564.95H756.07M751.75 567.5L754.15 562.4M756.84 560.27V564.95M760.06 559V566.23M761.16 559V567.5M757.56 561.55H761.4M756.6 563.25H760.44M762.17 559V566.23M763.37 561.55V567.5M764.33 559V567.5M761.93 559.68H766.73M761.93 563.25H766.73M762.89 564.95H766.73M767.51 560.27V564.95M768.71 559V567.5M771.83 561.55V567.5M767.27 559.68H772.07M767.27 563.25H772.07M767.75 567.5L770.15 562.4M772.84 559V564.95M774.04 560.27V567.5M775 561.55V567.5M773.56 559.68H777.4M773.56 563.25H777.4M772.6 564.95H777.4M778.17 561.55V567.5M780.33 560.27V567.5M782.49 561.55V564.95M777.93 561.55H782.73M777.93 564.95H782.73" stroke="#ffffff" fill="none" stroke-width="1.2"/>
<line x1="739" y1="571.5" x2="793" y2="571.5" stroke="#ffffff" stroke-width="1" shape-rendering="crispEdges"/>
<line x1="739" y1="574.5" x2="793" y2="574.5" stroke="#ffffff" stroke-width="1" shape-rendering="crispEdges"/>
</g>
</svg>
</body></html>
